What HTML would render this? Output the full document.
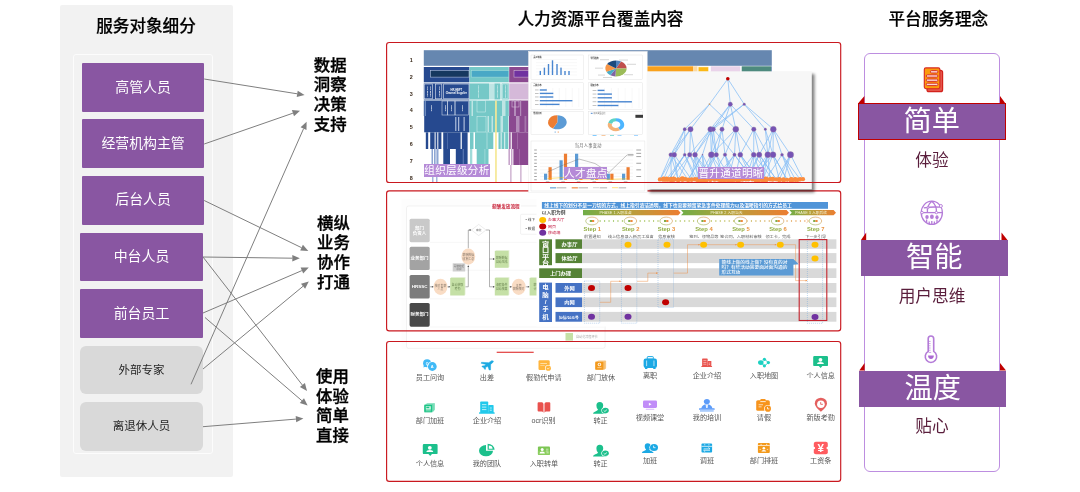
<!DOCTYPE html>
<html lang="zh-CN">
<head>
<meta charset="utf-8">
<title>人力资源平台覆盖内容</title>
<style>
html,body{margin:0;padding:0;background:#fff;}
body{width:1080px;height:492px;overflow:hidden;font-family:"Liberation Sans","Noto Sans CJK SC",sans-serif;color:#000;}
#stage{will-change:transform;position:relative;width:1080px;height:492px;overflow:hidden;background:#fff;}
#stage *{box-sizing:border-box;}
.abs{position:absolute;}
.t{position:absolute;white-space:nowrap;line-height:1;}
.title{position:absolute;font-weight:500;-webkit-text-stroke:0.2px #000;font-size:16.6px;line-height:20px;text-align:center;white-space:nowrap;color:#000;}
/* left */
.lpanel{position:absolute;left:60px;top:5px;width:172.5px;height:472px;background:#f2f2f2;border-radius:2px;}
.linner{position:absolute;left:73px;top:54px;width:139.6px;height:399.5px;border:1px solid #fcfcfc;border-radius:3px;}
.pbox{position:absolute;background:#8956a2;color:#fff;font-size:13.9px;font-weight:400;padding-bottom:4px;text-align:center;border-radius:1px;display:flex;align-items:center;justify-content:center;white-space:nowrap;}
.gbox{position:absolute;background:#d9d9d9;color:#262626;font-size:11.5px;font-weight:400;padding-bottom:2px;text-align:center;border-radius:6px;display:flex;align-items:center;justify-content:center;white-space:nowrap;}
.lab{position:absolute;font-weight:500;-webkit-text-stroke:0.35px #000;font-size:16.4px;line-height:19.85px;white-space:nowrap;color:#000;}
/* mid */
.rbox{position:absolute;border:1.2px solid #d2232a;border-radius:4.5px;}
.tag{position:absolute;background:#b58ad7;color:#fff;font-size:10.6px;line-height:12.2px;white-space:nowrap;font-weight:400;overflow:hidden;letter-spacing:0.3px;}
/* right */
.rpanel{position:absolute;left:864px;top:53.4px;width:136.2px;height:419px;border:1.3px solid #bd8ee0;border-radius:6px;background:#fff;}
.ban{position:absolute;background:#8956a2;color:#fff;font-size:28.2px;font-weight:400;padding-bottom:1px;line-height:1;text-align:center;white-space:nowrap;display:flex;align-items:center;justify-content:center;}
.sub{position:absolute;color:#5a1e3c;font-size:16.7px;font-weight:400;text-align:center;white-space:nowrap;line-height:20px;}

</style>
</head>
<body>
<div id="stage">
<div class="lpanel"></div>
<div class="linner"></div>
<div class="title" style="left:60px;top:16.9px;width:172px;">服务对象细分</div>
<div class="pbox" style="left:82px;top:63px;width:122.2px;height:49px;">高管人员</div>
<div class="pbox" style="left:82px;top:119px;width:122.2px;height:49.4px;">经营机构主管</div>
<div class="pbox" style="left:82px;top:176px;width:122.2px;height:48.5px;">后台人员</div>
<div class="pbox" style="left:80px;top:232.5px;width:123px;height:48.5px;">中台人员</div>
<div class="pbox" style="left:80px;top:289px;width:123px;height:49px;">前台员工</div>
<div class="gbox" style="left:80px;top:345.5px;width:123px;height:48.5px;">外部专家</div>
<div class="gbox" style="left:80px;top:401.5px;width:123px;height:49px;">离退休人员</div>
<div class="lab" style="left:313.8px;top:55.6px;">数据<br>洞察<br>决策<br>支持</div>
<div class="lab" style="left:317px;top:213.6px;">横纵<br>业务<br>协作<br>打通</div>
<div class="lab" style="left:316px;top:366.8px;">使用<br>体验<br>简单<br>直接</div>
<svg class="abs" style="left:0;top:0" width="1080" height="492" viewBox="0 0 1080 492">
<line x1="204.2" y1="79.0" x2="297.2" y2="93.8" stroke="#7f7f7f" stroke-width="1"/><polygon points="304.6,95.0 296.7,97.0 297.7,90.7" fill="#7f7f7f"/>
<line x1="204.2" y1="144.0" x2="292.9" y2="113.2" stroke="#7f7f7f" stroke-width="1"/><polygon points="300.0,110.7 294.0,116.2 291.9,110.1" fill="#7f7f7f"/>
<line x1="191.0" y1="384.3" x2="303.6" y2="128.6" stroke="#7f7f7f" stroke-width="1"/><polygon points="306.6,121.7 306.5,129.9 300.6,127.3" fill="#7f7f7f"/>
<line x1="204.2" y1="200.5" x2="301.6" y2="247.7" stroke="#7f7f7f" stroke-width="1"/><polygon points="308.3,251.0 300.2,250.6 302.9,244.8" fill="#7f7f7f"/>
<line x1="203.0" y1="257.0" x2="292.3" y2="258.2" stroke="#7f7f7f" stroke-width="1"/><polygon points="299.8,258.3 292.3,261.4 292.3,255.0" fill="#7f7f7f"/>
<line x1="203.0" y1="313.0" x2="301.9" y2="270.6" stroke="#7f7f7f" stroke-width="1"/><polygon points="308.8,267.6 303.2,273.5 300.6,267.6" fill="#7f7f7f"/>
<line x1="203.0" y1="369.0" x2="303.0" y2="286.3" stroke="#7f7f7f" stroke-width="1"/><polygon points="308.8,281.5 305.1,288.7 301.0,283.8" fill="#7f7f7f"/>
<line x1="203.0" y1="257.0" x2="302.4" y2="385.1" stroke="#7f7f7f" stroke-width="1"/><polygon points="307.0,391.0 299.9,387.0 304.9,383.1" fill="#7f7f7f"/>
<line x1="205.0" y1="317.5" x2="301.9" y2="400.7" stroke="#7f7f7f" stroke-width="1"/><polygon points="307.6,405.6 299.8,403.1 304.0,398.3" fill="#7f7f7f"/>
<line x1="203.0" y1="426.7" x2="295.9" y2="419.1" stroke="#7f7f7f" stroke-width="1"/><polygon points="303.4,418.5 296.2,422.3 295.7,415.9" fill="#7f7f7f"/>
</svg>
<div class="title" style="left:500px;top:10px;width:201px;">人力资源平台覆盖内容</div>
<svg class="abs" style="left:0;top:0" width="1080" height="492" viewBox="0 0 1080 492" font-family="Liberation Sans, Noto Sans CJK SC, sans-serif">
<defs><filter id="bl3" x="-10%" y="-10%" width="120%" height="120%"><feGaussianBlur stdDeviation="0.35"/></filter></defs>
<g filter="url(#bl3)">
<rect x="496.7" y="351.7" width="37" height="1.2" fill="#e2403f"/>
<circle cx="427.10" cy="363.20" r="4" fill="#40b9f6"/><path d="M424.00,365.10 l-0.6,2.4 l2.6,-1 z" fill="#40b9f6"/><circle cx="432.20" cy="366.50" r="4.9" fill="#fff"/><circle cx="432.30" cy="366.50" r="4.4" fill="#40b9f6"/><text x="427.10" y="364.50" font-size="3.6" font-weight="700" fill="#fff" text-anchor="middle">Q</text><text x="432.30" y="368.00" font-size="4" font-weight="700" fill="#fff" text-anchor="middle">A</text>
<text transform="translate(430.0,380.3) scale(1.13,1)" font-size="6.3" fill="#555" text-anchor="middle">员工问询</text>
<polygon points="493.15,360.90 493.35,361.90 490.65,364.40 490.55,369.90 489.25,370.00 487.75,366.20 485.45,367.50 485.55,369.20 484.65,369.30 483.65,367.60 481.95,366.70 482.35,365.90 484.35,365.80 486.05,364.40 481.15,363.30 481.55,362.30 488.75,362.70 491.65,360.70" fill="#1aa9e1" stroke="#1aa9e1" stroke-width="0.5" stroke-linejoin="round"/>
<text transform="translate(486.9,380.3) scale(1.13,1)" font-size="6.3" fill="#555" text-anchor="middle">出差</text>
<rect x="538.50" y="360.20" width="11.2" height="9.7" rx="1.2" fill="#ffb53d"/><rect x="540.30" y="363.10" width="6.6" height="0.9" fill="#ffe3b0"/><rect x="540.30" y="365.00" width="4.4" height="0.8" fill="#ffd995"/><circle cx="548.30" cy="368.20" r="3.3" fill="#fff"/><circle cx="548.30" cy="368.20" r="2.6" fill="#ffb53d"/><path d="M547.10,368.20 l1,0.9 l1.5,-1.5" stroke="#fff" stroke-width="0.6" fill="none"/>
<text transform="translate(543.8,380.3) scale(1.13,1)" font-size="6.3" fill="#555" text-anchor="middle">假勤代申请</text>
<rect x="597.70" y="360.50" width="8.4" height="8.4" rx="1" fill="#f8c070"/><rect x="596.30" y="360.90" width="8.8" height="8.9" rx="1" fill="#f6b04e" stroke="#fff" stroke-width="0.3"/><rect x="595.00" y="361.40" width="8.8" height="8.6" rx="1" fill="#f39a1f" stroke="#fff" stroke-width="0.3"/><circle cx="599.40" cy="364.50" r="1.7" fill="#fff"/><circle cx="599.40" cy="364.50" r="0.9" fill="#f39a1f"/><rect x="597.30" y="367.30" width="4.2" height="0.8" fill="#fbd9a6"/>
<text transform="translate(601.0,380.3) scale(1.13,1)" font-size="6.3" fill="#555" text-anchor="middle">部门放休</text>
<rect x="647.30" y="356.60" width="6" height="2.6" rx="0.6" fill="none" stroke="#1da9e4" stroke-width="1"/><rect x="643.60" y="358.50" width="13.40" height="9.4" rx="2.2" fill="#1da9e4"/><rect x="646.20" y="360.50" width="0.9" height="5.6" fill="#bfe6f8"/><rect x="653.50" y="360.50" width="0.9" height="5.6" fill="#bfe6f8"/><rect x="645.00" y="367.30" width="2.4" height="1.6" rx="0.5" fill="#1da9e4"/><rect x="653.20" y="367.30" width="2.4" height="1.6" rx="0.5" fill="#1da9e4"/>
<text transform="translate(650.1,378.1) scale(1.13,1)" font-size="6.3" fill="#555" text-anchor="middle">离职</text>
<g transform="translate(701.30,358.60) scale(0.688)"><rect x="1.2" y="0" width="8" height="11.6" rx="0.8" fill="#e9544f"/><rect x="9.2" y="3.6" width="5.4" height="8" rx="0.6" fill="#e9544f"/><rect x="0" y="10.8" width="15.7" height="1.5" rx="0.6" fill="#e9544f"/><rect x="3" y="2.6" width="4.4" height="1" fill="#f8c4c2"/><rect x="3" y="5.1" width="4.4" height="1" fill="#f8c4c2"/><rect x="3" y="7.6" width="4.4" height="1" fill="#f8c4c2"/><rect x="10.8" y="6" width="2" height="1" fill="#f8c4c2"/><rect x="10.8" y="8.2" width="2" height="1" fill="#f8c4c2"/></g>
<text transform="translate(706.9,378.1) scale(1.13,1)" font-size="6.3" fill="#555" text-anchor="middle">企业介绍</text>
<path d="M764.40,359.10 L768.40,362.55 L764.40,366.00 L761.00,362.55" stroke="#1fd1c2" stroke-width="0.9" fill="none"/><ellipse cx="760.90" cy="362.55" rx="2.9" ry="2.4" fill="#1fd1c2"/><circle cx="764.40" cy="359.30" r="1.6" fill="#1fd1c2"/><circle cx="764.40" cy="365.80" r="1.6" fill="#1fd1c2"/><circle cx="768.40" cy="362.55" r="1.6" fill="#1fd1c2"/><path d="M763.60,361.25 l1.6,1.3 l-1.6,1.3 z" fill="#fff"/>
<text transform="translate(764.0,378.1) scale(1.13,1)" font-size="6.3" fill="#555" text-anchor="middle">入职地图</text>
<path d="M814.10,356.10 h12.70 q1.2,0 1.2,1.2 v7.6 q0,1.2 -1.2,1.2 h-4.4 l-1.8,1.9 l-1.8,-1.9 h-4.4 q-1.2,0 -1.2,-1.2 v-7.6 q0,-1.2 1.2,-1.2 z" fill="#1cc08c"/><circle cx="820.45" cy="359.80" r="1.9" fill="#fff"/><path d="M817.05,364.10 q0,-2.2 3.4,-2.2 q3.4,0 3.4,2.2 z" fill="#fff"/>
<text transform="translate(820.7,378.1) scale(1.13,1)" font-size="6.3" fill="#555" text-anchor="middle">个人信息</text>
<rect x="426.60" y="403.00" width="8.4" height="7.6" rx="1" fill="#7fdfba"/><rect x="425.30" y="403.70" width="8.6" height="8" rx="1" fill="#4fd2a2" stroke="#fff" stroke-width="0.3"/><rect x="424.00" y="404.40" width="8.6" height="8" rx="1" fill="#1fc487" stroke="#fff" stroke-width="0.3"/><rect x="425.80" y="406.20" width="5" height="3.4" fill="#d5f5e8"/><rect x="426.30" y="406.80" width="3" height="1.4" fill="#1fc487"/><rect x="425.80" y="410.50" width="5" height="0.7" fill="#a5ebcf"/>
<text transform="translate(430.0,423.1) scale(1.13,1)" font-size="6.3" fill="#555" text-anchor="middle">部门加班</text>
<g transform="translate(479.00,401.50) scale(1.000)"><rect x="1.2" y="0" width="8" height="11.6" rx="0.8" fill="#20c9eb"/><rect x="9.2" y="3.6" width="5.4" height="8" rx="0.6" fill="#20c9eb"/><rect x="0" y="10.8" width="15.7" height="1.5" rx="0.6" fill="#20c9eb"/><rect x="3" y="2.6" width="4.4" height="1" fill="#b5eef9"/><rect x="3" y="5.1" width="4.4" height="1" fill="#b5eef9"/><rect x="3" y="7.6" width="4.4" height="1" fill="#b5eef9"/><rect x="10.8" y="6" width="2" height="1" fill="#b5eef9"/><rect x="10.8" y="8.2" width="2" height="1" fill="#b5eef9"/></g>
<text transform="translate(487.0,423.1) scale(1.13,1)" font-size="6.3" fill="#555" text-anchor="middle">企业介绍</text>
<path d="M537.60,403.30 q0,-1 1,-1 h3.2 q1.6,0 1.6,1.6 v8.6 q-0.6,-1 -1.8,-1 h-3 q-1,0 -1,-1 z" fill="#e9514e"/><path d="M550.30,403.30 q0,-1 -1,-1 h-3.2 q-1.6,0 -1.6,1.6 v8.6 q0.6,-1 1.8,-1 h3 q1,0 1,-1 z" fill="#e9514e"/><rect x="543.45" y="403.70" width="1" height="8.8" fill="#f3a19f"/>
<text transform="translate(543.5,423.1) scale(1.13,1)" font-size="6.3" fill="#555" text-anchor="middle">ocr识别</text>
<path d="M593.00,413.80 q0,-1.6 2.4,-2.4 q2.4,-0.8 2.6,-1.8 q-1.6,-1.2 -1.6,-4 q0,-3.6 3.4,-3.6 q3.4,0 3.4,3.6 q0,2.8 -1.6,4 q0.2,1 2.6,1.8 q2.4,0.8 2.4,2.4 z" fill="#1cc08c"/><ellipse cx="605.40" cy="410.50" rx="4" ry="3.2" fill="#fff"/><ellipse cx="605.40" cy="410.50" rx="3.4" ry="2.7" fill="#1cc08c"/><path d="M603.70,410.50 l1.2,1 l2,-1.8" stroke="#fff" stroke-width="0.8" fill="none"/>
<text transform="translate(600.6,423.1) scale(1.13,1)" font-size="6.3" fill="#555" text-anchor="middle">转正</text>
<rect x="643.00" y="400.60" width="14.00" height="7.3" rx="1.3" fill="#c18df8"/><rect x="645.70" y="408.80" width="8.6" height="1" rx="0.5" fill="#d8b6fb"/><path d="M648.90,402.70 v3 l2.6,-1.5 z" fill="#fff"/>
<text transform="translate(650.0,420.3) scale(1.13,1)" font-size="6.3" fill="#555" text-anchor="middle">视频课堂</text>
<ellipse cx="706.85" cy="401.60" rx="3" ry="2.7" fill="#5d9cf9"/><path d="M701.25,408.80 q0.6,-4.6 5.6,-4.6 q5,0 5.6,4.6 z" fill="#5d9cf9"/><path d="M705.65,404.40 h2.4 l-0.4,3.6 h-1.6 z" fill="#e6f0ff"/><rect x="699.00" y="408.20" width="15.70" height="1.6" rx="0.6" fill="#5d9cf9"/><rect x="700.00" y="409.80" width="13.70" height="2" fill="#a9cbfc"/>
<text transform="translate(707.0,420.3) scale(1.13,1)" font-size="6.3" fill="#555" text-anchor="middle">我的培训</text>
<rect x="756.20" y="400.20" width="13.6" height="10.6" rx="1.6" fill="#f7941e"/><rect x="760.30" y="399.00" width="5.4" height="2.4" rx="1" fill="#f7941e"/><rect x="760.30" y="401.20" width="5.4" height="0.9" fill="#fff" opacity="0.9"/><rect x="758.60" y="404.30" width="4.4" height="0.9" fill="#fde3c0"/><rect x="758.60" y="406.40" width="3" height="0.9" fill="#fde3c0"/><circle cx="767.90" cy="408.70" r="3.8" fill="#fff"/><circle cx="767.90" cy="408.70" r="3.1" fill="#f7941e"/><path d="M767.50,407.00 v1.9 h1.8" stroke="#fff" stroke-width="0.8" fill="none"/>
<text transform="translate(763.9,420.3) scale(1.13,1)" font-size="6.3" fill="#555" text-anchor="middle">请假</text>
<path d="M820.90,411.80 q-6.1,-5 -6.1,-8.4 a6.1,5.7 0 0 1 12.2,0 q0,3.4 -6.1,8.4 z" fill="#e4605f"/><circle cx="820.90" cy="404.20" r="3.8" fill="#fff"/><path d="M820.70,402.10 v2.2 h2.2" stroke="#e4605f" stroke-width="0.9" fill="none"/>
<text transform="translate(820.7,420.3) scale(1.13,1)" font-size="6.3" fill="#555" text-anchor="middle">新版考勤</text>
<path d="M423.20,444.10 h13.20 q1.2,0 1.2,1.2 v7.6 q0,1.2 -1.2,1.2 h-4.4 l-1.8,1.9 l-1.8,-1.9 h-4.4 q-1.2,0 -1.2,-1.2 v-7.6 q0,-1.2 1.2,-1.2 z" fill="#1cc08c"/><circle cx="429.80" cy="447.80" r="1.9" fill="#fff"/><path d="M426.40,452.10 q0,-2.2 3.4,-2.2 q3.4,0 3.4,2.2 z" fill="#fff"/>
<text transform="translate(430.0,466.0) scale(1.13,1)" font-size="6.3" fill="#555" text-anchor="middle">个人信息</text>
<path d="M486.00,450.70 L486.00,445.10 A7.00,5.60 0 1 0 493.00,450.70 Z" fill="#1cc08c"/><path d="M487.60,449.80 v-6 a7,6 0 0 1 7,6 z" fill="#1cc08c"/><path d="M488.80,448.70 v-3.2 a4,3.4 0 0 1 3.8,3.2 z" fill="#fff"/>
<text transform="translate(486.9,466.0) scale(1.13,1)" font-size="6.3" fill="#555" text-anchor="middle">我的团队</text>
<rect x="537.90" y="446.60" width="12.10" height="8.40" rx="1" fill="#7cc653"/><rect x="537.90" y="450.80" width="12.10" height="4.20" rx="1" fill="#93d267" opacity="0.7"/><circle cx="542.20" cy="449.60" r="1.5" fill="#fff"/><path d="M539.50,453.40 q0,-2 2.7,-2 q2.7,0 2.7,2 z" fill="#fff"/><path d="M545.90,449.20 h2.6 M545.90,451.00 h2.6 M546.50,452.80 h2.2" stroke="#e9f7df" stroke-width="0.7" fill="none"/>
<text transform="translate(543.9,466.0) scale(1.13,1)" font-size="6.3" fill="#555" text-anchor="middle">入职转单</text>
<path d="M593.00,456.60 q0,-1.6 2.4,-2.4 q2.4,-0.8 2.6,-1.8 q-1.6,-1.2 -1.6,-4 q0,-3.6 3.4,-3.6 q3.4,0 3.4,3.6 q0,2.8 -1.6,4 q0.2,1 2.6,1.8 q2.4,0.8 2.4,2.4 z" fill="#1cc08c"/><ellipse cx="605.40" cy="453.30" rx="4" ry="3.2" fill="#fff"/><ellipse cx="605.40" cy="453.30" rx="3.4" ry="2.7" fill="#1cc08c"/><path d="M603.70,453.30 l1.2,1 l2,-1.8" stroke="#fff" stroke-width="0.8" fill="none"/>
<text transform="translate(600.6,466.0) scale(1.13,1)" font-size="6.3" fill="#555" text-anchor="middle">转正</text>
<path d="M641.90,452.90 q0,-1.4 2,-2 q2,-0.6 2.2,-1.4 q-1.4,-1 -1.4,-3.2 q0,-3 3,-3 q3,0 3,3 q0,2.2 -1.4,3.2 q0.2,0.8 2.2,1.4 q2,0.6 2,2 z" fill="#1da9e4"/><ellipse cx="654.00" cy="447.60" rx="4.6" ry="4" fill="#fff"/><ellipse cx="654.00" cy="447.60" rx="4" ry="3.5" fill="#1da9e4"/><path d="M653.60,445.70 v2 h1.9" stroke="#fff" stroke-width="0.8" fill="none"/>
<text transform="translate(650.0,463.3) scale(1.13,1)" font-size="6.3" fill="#555" text-anchor="middle">加班</text>
<rect x="701.50" y="443.60" width="10.60" height="8.80" rx="0.9" fill="#1da9e4"/><rect x="701.50" y="445.90" width="10.60" height="0.7" fill="#fff"/><rect x="704.10" y="444.50" width="1.2" height="0.7" fill="#fff"/><rect x="708.30" y="444.50" width="1.2" height="0.7" fill="#fff"/><path d="M703.60,448.90 h6.4 l-1.6,-1.5 M710.00,450.30 h-6.4 l1.6,1.5" stroke="#fff" stroke-width="0.7" fill="none"/>
<text transform="translate(706.9,463.3) scale(1.13,1)" font-size="6.3" fill="#555" text-anchor="middle">调班</text>
<rect x="757.90" y="443.00" width="11.90" height="9.90" rx="0.9" fill="#f39a1f"/><rect x="757.90" y="445.30" width="11.90" height="0.7" fill="#fff"/><rect x="760.50" y="443.90" width="1.2" height="0.7" fill="#fff"/><rect x="766.00" y="443.90" width="1.2" height="0.7" fill="#fff"/><circle cx="763.85" cy="448.30" r="1.3" fill="#fff"/><path d="M761.45,451.60 q0,-1.6 2.4,-1.6 q2.4,0 2.4,1.6 z" fill="#fff"/><path d="M759.50,449.40 h1.4 M766.80,449.40 h1.4" stroke="#fff" stroke-width="0.6"/>
<text transform="translate(764.0,463.3) scale(1.13,1)" font-size="6.3" fill="#555" text-anchor="middle">部门排班</text>
<rect x="813.80" y="441.80" width="14.00" height="12.50" rx="2" fill="#ff5b60"/><circle cx="813.80" cy="448.05" r="1.3" fill="#fff"/><circle cx="827.80" cy="448.05" r="1.3" fill="#fff"/><text x="820.80" y="452.15" font-size="11.5" font-weight="700" fill="#fff" text-anchor="middle">¥</text>
<text transform="translate(820.7,463.3) scale(1.13,1)" font-size="6.3" fill="#555" text-anchor="middle">工资条</text>
</g>
</svg>
<svg class="abs" style="left:0;top:0" width="1080" height="492" viewBox="0 0 1080 492" font-family="Liberation Sans, Noto Sans CJK SC, sans-serif">
<defs><filter id="bl2" x="-5%" y="-5%" width="110%" height="110%"><feGaussianBlur stdDeviation="0.4"/></filter><linearGradient id="ph" x1="0" x2="1" y1="0" y2="0"><stop offset="0" stop-color="#70ad47"/><stop offset="0.45" stop-color="#b5a13c"/><stop offset="1" stop-color="#ed7d31"/></linearGradient><linearGradient id="ph2" gradientUnits="userSpaceOnUse" x1="599" x2="808" y1="0" y2="0"><stop offset="0" stop-color="#93c255"/><stop offset="0.55" stop-color="#b9c25a"/><stop offset="1" stop-color="#eda05a"/></linearGradient><linearGradient id="ph3" x1="0" x2="1" y1="1" y2="0"><stop offset="0" stop-color="#86b84c"/><stop offset="1" stop-color="#ee8a45"/></linearGradient></defs>
<g filter="url(#bl2)">
<rect x="401.5" y="199.0" width="204.5" height="150.0" fill="#fdfdfd" />
<rect x="406.5" y="206.0" width="198.5" height="142.3" fill="#fff" stroke="#e4e4e4" stroke-width="0.5" rx="2"/>
<rect x="490.5" y="203.0" width="30.5" height="6.0" fill="#fff" />
<text x="505.8" y="207.6" font-size="4.6" fill="#c9283e" text-anchor="middle" font-weight="700" >薪酬发放流程</text>
<rect x="409.6" y="218.7" width="20.1" height="23.5" fill="#c9c9c9" rx="1.6"/>
<text transform="translate(419.6,229.8) scale(1.10,1)" font-size="4.1" fill="#fff" text-anchor="middle" font-weight="700" >部门</text>
<text transform="translate(419.6,234.8) scale(1.10,1)" font-size="4.1" fill="#fff" text-anchor="middle" font-weight="700" >负责人</text>
<rect x="409.6" y="246.8" width="20.1" height="23.2" fill="#a3a3a3" rx="1.6"/>
<text transform="translate(419.6,259.9) scale(1.10,1)" font-size="4.1" fill="#fff" text-anchor="middle" font-weight="700" >业务部门</text>
<rect x="409.6" y="275.0" width="20.1" height="23.5" fill="#7b7b7b" rx="1.6"/>
<text transform="translate(419.6,288.2) scale(1.10,1)" font-size="4.1" fill="#fff" text-anchor="middle" font-weight="700" >HRSSC</text>
<rect x="409.6" y="303.0" width="20.1" height="23.7" fill="#4a4a4a" rx="1.6"/>
<text transform="translate(419.6,316.4) scale(1.10,1)" font-size="4.1" fill="#fff" text-anchor="middle" font-weight="700" >财务部门</text>
<line x1="430" y1="242.4" x2="604" y2="242.4" stroke="#ececec" stroke-width="0.4"/>
<line x1="430" y1="270.3" x2="604" y2="270.3" stroke="#ececec" stroke-width="0.4"/>
<line x1="430" y1="298.8" x2="604" y2="298.8" stroke="#ececec" stroke-width="0.4"/>
<line x1="430" y1="327.0" x2="604" y2="327.0" stroke="#ececec" stroke-width="0.4"/>
<rect x="520.6" y="214.3" width="24.4" height="20.0" fill="#fff" stroke="#dedede" stroke-width="0.4" rx="1"/>
<text x="525.6" y="221.4" font-size="3.6" fill="#444" text-anchor="start" font-weight="400" >• 线下</text>
<text x="525.6" y="229.6" font-size="3.6" fill="#444" text-anchor="start" font-weight="400" >• 数据</text>
<polyline points="429.8,286.8 433.5,286.8" stroke="#555" stroke-width="0.45" fill="none"/>
<polygon points="433.5,286.8 431.9,287.7 431.9,285.9" fill="#444"/>
<polyline points="447.3,286.8 450.2,286.8" stroke="#555" stroke-width="0.45" fill="none"/>
<polygon points="450.2,286.8 448.6,287.7 448.6,285.9" fill="#444"/>
<polyline points="464.6,286.8 468.3,286.8 468.3,265.5" stroke="#555" stroke-width="0.45" fill="none"/>
<polygon points="468.3,265.5 469.2,267.1 467.4,267.1" fill="#444"/>
<polyline points="468.3,248.3 468.3,230.0 471.2,230.0" stroke="#555" stroke-width="0.45" fill="none"/>
<polygon points="471.2,230.0 469.6,230.9 469.6,229.1" fill="#444"/>
<polyline points="486.0,230.0 489.5,230.0 489.5,286.8 494.6,286.8" stroke="#555" stroke-width="0.45" fill="none"/>
<polygon points="494.6,286.8 493.0,287.7 493.0,285.9" fill="#444"/>
<polyline points="489.5,259.0 494.6,259.0" stroke="#555" stroke-width="0.45" fill="none"/>
<polygon points="494.6,259.0 493.0,259.9 493.0,258.1" fill="#444"/>
<polyline points="508.5,286.8 511.8,286.8" stroke="#555" stroke-width="0.45" fill="none"/>
<polygon points="511.8,286.8 510.2,287.7 510.2,285.9" fill="#444"/>
<polyline points="525.6,286.8 529.4,286.8" stroke="#555" stroke-width="0.45" fill="none"/>
<polygon points="529.4,286.8 527.8,287.7 527.8,285.9" fill="#444"/>
<polygon points="471.5,230 478.7,224.4 486,230 478.7,235.6" fill="#fff" stroke="#cfcfcf" stroke-width="0.4"/>
<text x="478.7" y="231.2" font-size="2.8" fill="#777" text-anchor="middle" font-weight="400" >审批</text>
<ellipse cx="468.3" cy="256.6" rx="6.9" ry="8.1" fill="#f9dcc4"/>
<text x="468.3" y="256.3" font-size="2.9" fill="#8a7a6c" text-anchor="middle" font-weight="400" >薪酬数据</text>
<text x="468.3" y="260.0" font-size="2.9" fill="#8a7a6c" text-anchor="middle" font-weight="400" >收集汇总</text>
<rect x="452.7" y="263.3" width="12.5" height="8.2" fill="#cfcfcf" />
<text x="459.0" y="266.8" font-size="2.6" fill="#777" text-anchor="middle" font-weight="400" >薪酬数据</text>
<text x="459.0" y="270.2" font-size="2.6" fill="#777" text-anchor="middle" font-weight="400" >提报</text>
<rect x="495.6" y="250.1" width="13.8" height="16.9" fill="#e6f1d8" />
<rect x="494.8" y="250.9" width="13.8" height="16.9" fill="#c5e0a6" />
<text x="501.7" y="259.1" font-size="2.9" fill="#6f8a55" text-anchor="middle" font-weight="400" >薪酬数据</text>
<text x="501.7" y="262.8" font-size="2.9" fill="#6f8a55" text-anchor="middle" font-weight="400" >自动生成</text>
<ellipse cx="440.5" cy="286.8" rx="6.9" ry="8.1" fill="#f9dcc4"/>
<text x="440.5" y="286.5" font-size="2.9" fill="#8a7a6c" text-anchor="middle" font-weight="400" >核对发薪</text>
<text x="440.5" y="290.2" font-size="2.9" fill="#8a7a6c" text-anchor="middle" font-weight="400" >人员</text>
<rect x="451.0" y="277.1" width="14.5" height="17.6" fill="#e6f1d8" />
<rect x="450.2" y="277.9" width="14.5" height="17.6" fill="#c5e0a6" />
<text x="457.4" y="286.4" font-size="2.9" fill="#6f8a55" text-anchor="middle" font-weight="400" >自动获取</text>
<text x="457.4" y="290.1" font-size="2.9" fill="#6f8a55" text-anchor="middle" font-weight="400" >考勤</text>
<rect x="495.6" y="277.1" width="13.8" height="17.6" fill="#e6f1d8" />
<rect x="494.8" y="277.9" width="13.8" height="17.6" fill="#c5e0a6" />
<text x="501.7" y="286.4" font-size="2.9" fill="#6f8a55" text-anchor="middle" font-weight="400" >请假条件</text>
<text x="501.7" y="290.1" font-size="2.9" fill="#6f8a55" text-anchor="middle" font-weight="400" >自动核算</text>
<ellipse cx="518.7" cy="286.8" rx="6.9" ry="8.1" fill="#f9dcc4"/>
<text x="518.7" y="286.5" font-size="2.9" fill="#8a7a6c" text-anchor="middle" font-weight="400" >主管</text>
<text x="518.7" y="290.2" font-size="2.9" fill="#8a7a6c" text-anchor="middle" font-weight="400" >薪酬核对</text>
<rect x="530.4" y="277.1" width="13.4" height="17.6" fill="#e6f1d8" />
<rect x="529.6" y="277.9" width="13.4" height="17.6" fill="#c5e0a6" />
<text x="536.3" y="286.4" font-size="2.9" fill="#6f8a55" text-anchor="middle" font-weight="400" >薪酬</text>
<text x="536.3" y="290.1" font-size="2.9" fill="#6f8a55" text-anchor="middle" font-weight="400" >计算</text>
<rect x="565.5" y="333.0" width="7.5" height="7.6" fill="#c5e0a6" />
<text x="576.0" y="338.3" font-size="3.1" fill="#aaa" text-anchor="start" font-weight="400" >自动化流程环节</text>
<rect x="536.5" y="198.5" width="301.5" height="128.0" fill="#fff" />
<rect x="541.9" y="202.0" width="286.1" height="6.8" fill="#4f94d8" />
<text x="544.3" y="207.1" font-size="4.3" fill="#fff" text-anchor="start" font-weight="700" textLength="247.5" lengthAdjust="spacingAndGlyphs">线上线下的划分不是一刀切的方式，线上指引清洁透明，线下也需要预留紧急事件处理能力以及温暖指引的方式给员工</text>
<text transform="translate(541.8,214.3) scale(1.13,1)" font-size="4.2" fill="#222" text-anchor="start" font-weight="500" >以入职为例</text>
<polygon points="583.0,210.0 678.2,210.0 680.6,212.7 678.2,215.3 583.0,215.3" fill="url(#ph)"/>
<text transform="translate(615.6,213.9) scale(1.15,1)" font-size="3.3" fill="#f3f0d0" text-anchor="middle" font-weight="400" >PHASE 1 入职准备</text>
<polygon points="681.0,210.0 786.6,210.0 789.0,212.7 786.6,215.3 681.0,215.3 683.4,212.7" fill="url(#ph)"/>
<text transform="translate(726.5,213.9) scale(1.15,1)" font-size="3.3" fill="#f3f0d0" text-anchor="middle" font-weight="400" >PHASE 2 入职当天</text>
<polygon points="789.4,210.0 833.6,210.0 836.0,212.7 833.6,215.3 789.4,215.3 791.8,212.7" fill="url(#ph)"/>
<text transform="translate(811.0,213.9) scale(1.15,1)" font-size="3.3" fill="#f3f0d0" text-anchor="middle" font-weight="400" >PHASE 3 入职后续</text>
<ellipse cx="542.7" cy="220.0" rx="3.5" ry="3" fill="#ffc000"/>
<text transform="translate(548.0,221.4) scale(1.12,1)" font-size="3.7" fill="#c0143c" text-anchor="start" font-weight="400" >办事大厅</text>
<ellipse cx="542.7" cy="226.4" rx="3.5" ry="3" fill="#c00000"/>
<text transform="translate(548.0,227.8) scale(1.12,1)" font-size="3.7" fill="#c0143c" text-anchor="start" font-weight="400" >网页</text>
<ellipse cx="542.7" cy="232.8" rx="3.5" ry="3" fill="#7030a0"/>
<text transform="translate(548.0,234.2) scale(1.12,1)" font-size="3.7" fill="#c0143c" text-anchor="start" font-weight="400" >移动端</text>
<line x1="599.6" y1="221" x2="808" y2="221" stroke="url(#ph2)" stroke-width="1.4" stroke-dasharray="1.1 3.35"/>
<ellipse cx="592.0" cy="221" rx="6.3" ry="3.9" fill="#fff" stroke="url(#ph3)" stroke-width="0.6"/>
<rect x="589.8" y="220" width="2.2" height="2" fill="#7fae4a"/><rect x="592.0" y="220" width="2.2" height="2" fill="#ee8a3c"/>
<text transform="translate(592.3,231) scale(1.1,1)" font-size="5.3" font-weight="700" text-anchor="middle"><tspan fill="#93ae45">Step </tspan><tspan fill="#ea9340">1</tspan></text>
<text transform="translate(592.3,237.8) scale(1.13,1)" font-size="3.7" fill="#606060" text-anchor="middle" font-weight="400" >前置通知</text>
<ellipse cx="630.4" cy="221" rx="6.3" ry="3.9" fill="#fff" stroke="url(#ph3)" stroke-width="0.6"/>
<rect x="628.2" y="220" width="2.2" height="2" fill="#7fae4a"/><rect x="630.4" y="220" width="2.2" height="2" fill="#ee8a3c"/>
<text transform="translate(630.7,231) scale(1.1,1)" font-size="5.3" font-weight="700" text-anchor="middle"><tspan fill="#93ae45">Step </tspan><tspan fill="#ea9340">2</tspan></text>
<text transform="translate(630.7,237.8) scale(1.13,1)" font-size="3.7" fill="#606060" text-anchor="middle" font-weight="400" >线上信息录入新员工准备</text>
<ellipse cx="666.2" cy="221" rx="6.3" ry="3.9" fill="#fff" stroke="url(#ph3)" stroke-width="0.6"/>
<rect x="664.0" y="220" width="2.2" height="2" fill="#7fae4a"/><rect x="666.2" y="220" width="2.2" height="2" fill="#ee8a3c"/>
<text transform="translate(666.5,231) scale(1.1,1)" font-size="5.3" font-weight="700" text-anchor="middle"><tspan fill="#93ae45">Step </tspan><tspan fill="#ea9340">3</tspan></text>
<text transform="translate(666.5,237.8) scale(1.13,1)" font-size="3.7" fill="#606060" text-anchor="middle" font-weight="400" >信息审核</text>
<ellipse cx="703.6" cy="221" rx="6.3" ry="3.9" fill="#fff" stroke="url(#ph3)" stroke-width="0.6"/>
<rect x="701.4" y="220" width="2.2" height="2" fill="#7fae4a"/><rect x="703.6" y="220" width="2.2" height="2" fill="#ee8a3c"/>
<text transform="translate(703.9,231) scale(1.1,1)" font-size="5.3" font-weight="700" text-anchor="middle"><tspan fill="#93ae45">Step </tspan><tspan fill="#ea9340">4</tspan></text>
<text transform="translate(703.9,237.8) scale(1.13,1)" font-size="3.7" fill="#606060" text-anchor="middle" font-weight="400" >签到、领物品等</text>
<ellipse cx="740.6" cy="221" rx="6.3" ry="3.9" fill="#fff" stroke="url(#ph3)" stroke-width="0.6"/>
<rect x="738.4" y="220" width="2.2" height="2" fill="#7fae4a"/><rect x="740.6" y="220" width="2.2" height="2" fill="#ee8a3c"/>
<text transform="translate(740.9,231) scale(1.1,1)" font-size="5.3" font-weight="700" text-anchor="middle"><tspan fill="#93ae45">Step </tspan><tspan fill="#ea9340">5</tspan></text>
<text transform="translate(740.9,237.8) scale(1.13,1)" font-size="3.7" fill="#606060" text-anchor="middle" font-weight="400" >签合同，入职材料审核</text>
<ellipse cx="777.6" cy="221" rx="6.3" ry="3.9" fill="#fff" stroke="url(#ph3)" stroke-width="0.6"/>
<rect x="775.4" y="220" width="2.2" height="2" fill="#7fae4a"/><rect x="777.6" y="220" width="2.2" height="2" fill="#ee8a3c"/>
<text transform="translate(777.9,231) scale(1.1,1)" font-size="5.3" font-weight="700" text-anchor="middle"><tspan fill="#93ae45">Step </tspan><tspan fill="#ea9340">6</tspan></text>
<text transform="translate(777.9,237.8) scale(1.13,1)" font-size="3.7" fill="#606060" text-anchor="middle" font-weight="400" >领工卡，完成</text>
<ellipse cx="815.4" cy="221" rx="6.3" ry="3.9" fill="#fff" stroke="url(#ph3)" stroke-width="0.6"/>
<rect x="813.2" y="220" width="2.2" height="2" fill="#7fae4a"/><rect x="815.4" y="220" width="2.2" height="2" fill="#ee8a3c"/>
<text transform="translate(815.7,231) scale(1.1,1)" font-size="5.3" font-weight="700" text-anchor="middle"><tspan fill="#93ae45">Step </tspan><tspan fill="#ea9340">7</tspan></text>
<text transform="translate(815.7,237.8) scale(1.13,1)" font-size="3.7" fill="#606060" text-anchor="middle" font-weight="400" >下一步引导</text>
<polyline points="806.5,219.3 808.6,221 806.5,222.7" fill="none" stroke="#e98a2f" stroke-width="0.5"/>
<rect x="582.0" y="239.3" width="254.4" height="9.5" fill="#d9d9d9" />
<rect x="555.5" y="239.3" width="26.5" height="9.5" fill="#548235" />
<text transform="translate(569.5,245.7) scale(1.13,1)" font-size="4.7" fill="#fff" text-anchor="middle" font-weight="700" >办事厅</text>
<rect x="582.0" y="253.1" width="254.4" height="10.0" fill="#d9d9d9" />
<rect x="555.5" y="253.1" width="26.5" height="10.0" fill="#548235" />
<text transform="translate(569.5,260.0) scale(1.13,1)" font-size="4.7" fill="#fff" text-anchor="middle" font-weight="700" >体验厅</text>
<rect x="582.0" y="268.3" width="254.4" height="9.7" fill="#d9d9d9" />
<rect x="539.2" y="268.3" width="42.8" height="9.7" fill="#548235" />
<text transform="translate(560.5,274.9) scale(1.13,1)" font-size="4.7" fill="#fff" text-anchor="middle" font-weight="700" >上门办理</text>
<rect x="582.0" y="283.0" width="254.4" height="9.8" fill="#d9d9d9" />
<rect x="555.5" y="283.0" width="26.5" height="9.8" fill="#4472c4" />
<text transform="translate(569.5,289.7) scale(1.13,1)" font-size="4.7" fill="#fff" text-anchor="middle" font-weight="700" >外网</text>
<rect x="582.0" y="297.4" width="254.4" height="9.7" fill="#d9d9d9" />
<rect x="555.5" y="297.4" width="26.5" height="9.7" fill="#4472c4" />
<text transform="translate(569.5,304.0) scale(1.13,1)" font-size="4.7" fill="#fff" text-anchor="middle" font-weight="700" >内网</text>
<rect x="582.0" y="311.9" width="254.4" height="9.8" fill="#d9d9d9" />
<rect x="555.5" y="311.9" width="26.5" height="9.8" fill="#4472c4" />
<text transform="translate(568.8,318.6) scale(1.13,1)" font-size="3.3" fill="#fff" text-anchor="middle" font-weight="700" >短信/公众号</text>
<rect x="539.2" y="239.3" width="12.8" height="25.9" fill="#548235" />
<text transform="translate(545.6,245.6) scale(1.20,1)" font-size="6.0" fill="#fff" text-anchor="middle" font-weight="700" >窗</text>
<text transform="translate(545.6,252.0) scale(1.20,1)" font-size="6.0" fill="#fff" text-anchor="middle" font-weight="700" >口</text>
<text transform="translate(545.6,258.5) scale(1.20,1)" font-size="6.0" fill="#fff" text-anchor="middle" font-weight="700" >平</text>
<text transform="translate(545.6,264.9) scale(1.20,1)" font-size="6.0" fill="#fff" text-anchor="middle" font-weight="700" >台</text>
<rect x="539.2" y="282.6" width="12.8" height="39.4" fill="#4472c4" />
<text transform="translate(545.6,289.4) scale(1.20,1)" font-size="5.4" fill="#fff" text-anchor="middle" font-weight="700" >电</text>
<text transform="translate(545.6,296.7) scale(1.20,1)" font-size="5.4" fill="#fff" text-anchor="middle" font-weight="700" >脑</text>
<text transform="translate(545.6,304.0) scale(1.20,1)" font-size="5.4" fill="#fff" text-anchor="middle" font-weight="700" >/</text>
<text transform="translate(545.6,311.3) scale(1.20,1)" font-size="5.4" fill="#fff" text-anchor="middle" font-weight="700" >手</text>
<text transform="translate(545.6,318.6) scale(1.20,1)" font-size="5.4" fill="#fff" text-anchor="middle" font-weight="700" >机</text>
<rect x="584.4" y="281.0" width="15.3" height="42.2" fill="none" fill="none" stroke="#6fa5dc" stroke-width="0.45" stroke-dasharray="1 1"/>
<rect x="621.4" y="239.0" width="15.4" height="84.2" fill="none" fill="none" stroke="#6fa5dc" stroke-width="0.45" stroke-dasharray="1 1"/>
<rect x="658.0" y="239.0" width="15.5" height="68.5" fill="none" fill="none" stroke="#6fa5dc" stroke-width="0.45" stroke-dasharray="1 1"/>
<rect x="807.4" y="239.0" width="15.2" height="84.3" fill="none" fill="none" stroke="#6fa5dc" stroke-width="0.45" stroke-dasharray="1 1"/>
<polyline points="600.0,302.3 610.7,302.3 610.7,281.3 621.0,281.3" fill="none" stroke="#ed8a3f" stroke-width="0.45"/>
<polygon points="621.0,281.3 619.4,280.5 619.4,282.1" fill="#ed8a3f"/>
<polyline points="636.9,281.3 647.8,281.3 647.8,273.1 657.8,273.1" fill="none" stroke="#ed8a3f" stroke-width="0.45"/>
<polygon points="657.8,273.1 656.2,272.3 656.2,273.9" fill="#ed8a3f"/>
<polyline points="673.6,273.1 687.5,273.1 687.5,244.7 700.0,244.7" fill="none" stroke="#ed8a3f" stroke-width="0.45"/>
<polygon points="700.0,244.7 698.4,243.9 698.4,245.5" fill="#ed8a3f"/>
<polyline points="707.0,244.7 737.0,244.7" fill="none" stroke="#ed8a3f" stroke-width="0.45"/>
<polygon points="737.0,244.7 735.4,243.9 735.4,245.5" fill="#ed8a3f"/>
<polyline points="744.0,244.7 776.5,244.7" fill="none" stroke="#ed8a3f" stroke-width="0.45"/>
<polygon points="776.5,244.7 774.9,243.9 774.9,245.5" fill="#ed8a3f"/>
<polyline points="783.8,244.7 795.6,244.7 795.6,280.6 807.2,280.6" fill="none" stroke="#ed8a3f" stroke-width="0.45"/>
<polygon points="807.2,280.6 805.6,279.8 805.6,281.4" fill="#ed8a3f"/>
<ellipse cx="591.5" cy="288.0" rx="3.5" ry="3" fill="#c00000"/>
<ellipse cx="591.5" cy="316.8" rx="3.5" ry="3" fill="#7030a0"/>
<ellipse cx="628.0" cy="244.7" rx="3.5" ry="3" fill="#ffc000"/>
<ellipse cx="628.0" cy="288.0" rx="3.5" ry="3" fill="#c00000"/>
<ellipse cx="628.0" cy="316.8" rx="3.5" ry="3" fill="#7030a0"/>
<ellipse cx="667.0" cy="244.7" rx="3.5" ry="3" fill="#ffc000"/>
<ellipse cx="665.6" cy="302.2" rx="3.5" ry="3" fill="#c00000"/>
<ellipse cx="703.6" cy="244.7" rx="3.5" ry="3" fill="#ffc000"/>
<ellipse cx="740.6" cy="244.7" rx="3.5" ry="3" fill="#ffc000"/>
<ellipse cx="780.3" cy="244.7" rx="3.5" ry="3" fill="#ffc000"/>
<ellipse cx="815.0" cy="244.7" rx="3.5" ry="3" fill="#ffc000"/>
<ellipse cx="815.0" cy="258.4" rx="3.5" ry="3" fill="#ffc000"/>
<ellipse cx="815.0" cy="317.0" rx="3.5" ry="3" fill="#7030a0"/>
<polygon points="719.2,259 793.4,259 798.8,264.2 793.4,264.8 793.4,275.4 719.2,275.4" fill="#5b9bd5"/>
<text transform="translate(721.5,264.0) scale(1.18,1)" font-size="4.0" fill="#fff" text-anchor="start" font-weight="500" >能线上做的线上做？没有真的对</text>
<text transform="translate(721.5,268.9) scale(1.18,1)" font-size="4.0" fill="#fff" text-anchor="start" font-weight="500" >吗？有些活动需要面对面沟通的</text>
<text transform="translate(721.5,273.5) scale(1.18,1)" font-size="4.0" fill="#fff" text-anchor="start" font-weight="500" >形式互动</text>
<rect x="799.2" y="239.6" width="27.6" height="80.9" fill="none" stroke="#c4232d" stroke-width="1.1"/>
</g>
</svg>
<svg class="abs" style="left:0;top:0" width="1080" height="492" viewBox="0 0 1080 492"><rect x="386.6" y="341.5" width="454.1" height="139.9" rx="2.6" fill="none" stroke="#c9181f" stroke-width="1.15"/></svg>
<svg class="abs" style="left:0;top:0" width="1080" height="492" viewBox="0 0 1080 492"><rect x="386.6" y="190.8" width="454.1" height="140.1" rx="2.6" fill="none" stroke="#c9181f" stroke-width="1.15"/></svg>
<svg class="abs" style="left:0;top:0" width="1080" height="492" viewBox="0 0 1080 492" font-family="Liberation Sans, Noto Sans CJK SC, sans-serif">
<defs><filter id="bl" x="-5%" y="-5%" width="110%" height="110%"><feGaussianBlur stdDeviation="0.45"/></filter><filter id="sh" x="-10%" y="-10%" width="125%" height="125%"><feGaussianBlur stdDeviation="1.6"/></filter></defs>
<g filter="url(#bl)">
<text x="411.2" y="62.4" font-size="5.4" font-weight="700" fill="#3a2a1a" text-anchor="middle">1</text>
<text x="411.2" y="79.2" font-size="5.4" font-weight="700" fill="#3a2a1a" text-anchor="middle">2</text>
<text x="411.2" y="95.7" font-size="5.4" font-weight="700" fill="#3a2a1a" text-anchor="middle">3</text>
<text x="411.2" y="112.4" font-size="5.4" font-weight="700" fill="#3a2a1a" text-anchor="middle">4</text>
<text x="411.2" y="128.7" font-size="5.4" font-weight="700" fill="#3a2a1a" text-anchor="middle">5</text>
<text x="411.2" y="145.7" font-size="5.4" font-weight="700" fill="#3a2a1a" text-anchor="middle">6</text>
<text x="411.2" y="162.9" font-size="5.4" font-weight="700" fill="#3a2a1a" text-anchor="middle">7</text>
<text x="411.2" y="180.1" font-size="5.4" font-weight="700" fill="#3a2a1a" text-anchor="middle">8</text>
<rect x="423.8" y="50.2" width="348.0" height="15.6" fill="#6687b0" />
<rect x="423.8" y="67.0" width="45.6" height="15.3" fill="#264a8f" />
<rect x="430.6" y="70.7" width="38.4" height="6.4" fill="#17375e" stroke="#c9d6ea" stroke-width="0.5"/>
<rect x="469.6" y="67.0" width="39.2" height="15.3" fill="#74c8c7" />
<rect x="471.3" y="70.7" width="37.5" height="6.4" fill="#49a8c6" stroke="#a8dede" stroke-width="0.5"/>
<rect x="509.2" y="67.0" width="38.8" height="15.3" fill="#8b4a90" />
<rect x="514.0" y="70.7" width="34.0" height="6.4" fill="#7030a0" stroke="#d9c3e0" stroke-width="0.5"/>
<rect x="647.0" y="66.3" width="46.3" height="5.7" fill="#f9a11b" />
<rect x="693.3" y="66.3" width="4.2" height="5.7" fill="#fbd9a0" />
<rect x="698.3" y="67.0" width="10.0" height="5.0" fill="#fbb812" stroke="#fde9b5" stroke-width="0.5"/>
<rect x="710.8" y="66.3" width="29.5" height="5.7" fill="#ead3ea" />
<rect x="741.7" y="66.3" width="29.3" height="5.7" fill="#4d8a7e" />
<rect x="771.0" y="66.3" width="0.8" height="5.7" fill="#6687b0" />
<rect x="423.8" y="83.4" width="45.6" height="16.1" fill="#264a8f" />
<rect x="424.2" y="84.0" width="8.2" height="14.8" fill="none" stroke="#e3e9f5" stroke-width="0.6"/>
<rect x="435.6" y="84.0" width="6.2" height="14.8" fill="none" stroke="#e3e9f5" stroke-width="0.6"/>
<rect x="443.7" y="84.0" width="25.3" height="14.8" fill="none" stroke="#e3e9f5" stroke-width="0.6"/>
<text x="456.3" y="90.6" font-size="2.6" font-weight="700" fill="#fff" text-anchor="middle">HR-HBFT</text>
<text x="456.3" y="93.9" font-size="2.6" font-weight="700" fill="#fff" text-anchor="middle">Channel Supplier</text>
<text transform="translate(427.0,91.5) rotate(90)" font-size="2.4" font-weight="700" fill="#fff" text-anchor="middle">HR Team</text>
<text transform="translate(430.0,91.5) rotate(90)" font-size="2.4" font-weight="700" fill="#fff" text-anchor="middle">HR Team</text>
<text transform="translate(438.6,91.5) rotate(90)" font-size="2.4" font-weight="700" fill="#fff" text-anchor="middle">HR Team</text>
<rect x="469.6" y="83.4" width="19.4" height="16.1" fill="#74c8c7" />
<rect x="489.0" y="83.4" width="5.4" height="16.1" fill="#bfe5e4" />
<rect x="494.4" y="83.4" width="5.6" height="16.1" fill="#74c8c7" />
<rect x="500.0" y="83.4" width="2.0" height="16.1" fill="#bfe5e4" />
<rect x="502.0" y="83.4" width="6.8" height="16.1" fill="#74c8c7" />
<rect x="502.6" y="84.0" width="5.4" height="14.6" fill="none" stroke="#d8f0ef" stroke-width="0.5"/>
<text transform="translate(477.5,91.5) rotate(90)" font-size="2.4" font-weight="700" fill="#e8f7f7" text-anchor="middle">HR Service</text>
<text transform="translate(497.2,91.5) rotate(90)" font-size="2.4" font-weight="700" fill="#e8f7f7" text-anchor="middle">HR Service</text>
<text transform="translate(505.3,91.5) rotate(90)" font-size="2.4" font-weight="700" fill="#e8f7f7" text-anchor="middle">HR Service</text>
<rect x="509.2" y="83.4" width="38.8" height="16.1" fill="#d5b9d9" />
<rect x="423.8" y="100.5" width="45.6" height="15.5" fill="#264a8f" />
<rect x="442.0" y="101.0" width="5.5" height="14.0" fill="none" stroke="#dfe6f3" stroke-width="0.5"/>
<rect x="447.5" y="101.0" width="7.5" height="14.0" fill="none" stroke="#dfe6f3" stroke-width="0.5"/>
<rect x="455.0" y="101.0" width="13.5" height="14.0" fill="none" stroke="#dfe6f3" stroke-width="0.5"/>
<rect x="424.5" y="101.0" width="1.5" height="15.0" fill="#6d8cc0" />
<text transform="translate(431.0,108) rotate(90)" font-size="2.3" font-weight="700" fill="#fff" text-anchor="middle">HRBP</text>
<text transform="translate(444.8,108) rotate(90)" font-size="2.3" font-weight="700" fill="#fff" text-anchor="middle">HRBP</text>
<text transform="translate(451.0,108) rotate(90)" font-size="2.3" font-weight="700" fill="#fff" text-anchor="middle">HRBP</text>
<text transform="translate(461.5,108) rotate(90)" font-size="2.3" font-weight="700" fill="#fff" text-anchor="middle">HRBP</text>
<rect x="469.6" y="100.5" width="39.2" height="15.5" fill="#74c8c7" />
<rect x="471.5" y="100.5" width="1.5" height="15.5" fill="#bfe5e4" />
<rect x="477.0" y="100.5" width="8.5" height="11.5" fill="none" stroke="#d8f0ef" stroke-width="0.5"/>
<rect x="502.0" y="100.5" width="3.5" height="15.5" fill="#bfe5e4" />
<rect x="509.2" y="100.5" width="19.4" height="15.5" fill="#8b4a90" />
<rect x="514.0" y="100.5" width="2.0" height="15.5" fill="#b48cba" />
<rect x="520.0" y="100.5" width="1.2" height="15.5" fill="#b48cba" />
<rect x="512.0" y="101.0" width="7.0" height="6.0" fill="none" stroke="#e0cbe3" stroke-width="0.5"/>
<rect x="424.2" y="116.0" width="45.2" height="16.3" fill="#264a8f" />
<rect x="455.3" y="117.0" width="1.0" height="14.0" fill="#c7d3ea" />
<rect x="458.2" y="117.0" width="1.0" height="14.0" fill="#c7d3ea" />
<rect x="463.6" y="117.0" width="1.0" height="14.0" fill="#c7d3ea" />
<rect x="469.6" y="116.0" width="38.8" height="16.3" fill="#74c8c7" />
<rect x="477.0" y="116.5" width="9.0" height="15.5" fill="none" stroke="#d8f0ef" stroke-width="0.5"/>
<rect x="487.5" y="116.0" width="1.5" height="16.3" fill="#bfe5e4" />
<rect x="491.5" y="116.0" width="1.5" height="16.3" fill="#bfe5e4" />
<rect x="500.5" y="116.0" width="2.5" height="16.3" fill="#bfe5e4" />
<rect x="509.0" y="116.0" width="19.6" height="16.3" fill="#8b4a90" />
<rect x="516.0" y="116.0" width="3.5" height="16.3" fill="#b48cba" />
<rect x="524.5" y="116.0" width="1.8" height="16.3" fill="#a675ab" />
<rect x="425.8" y="132.3" width="41.8" height="16.7" fill="#264a8f" />
<rect x="428.2" y="132.3" width="2.0" height="16.7" fill="#fff" />
<rect x="434.6" y="132.3" width="1.0" height="16.7" fill="#fff" />
<rect x="437.3" y="132.3" width="1.0" height="16.7" fill="#fff" />
<rect x="441.4" y="132.3" width="1.8" height="16.7" fill="#fff" />
<rect x="460.6" y="132.3" width="1.2" height="16.7" fill="#fff" />
<rect x="447.0" y="132.3" width="1.0" height="16.7" fill="#4a69a8" />
<rect x="470.0" y="132.3" width="23.3" height="16.7" fill="#74c8c7" />
<rect x="473.5" y="132.3" width="1.5" height="16.7" fill="#fff" />
<rect x="486.5" y="132.3" width="1.0" height="16.7" fill="#a6dcdb" />
<rect x="498.5" y="132.3" width="9.8" height="16.7" fill="#74c8c7" />
<rect x="500.5" y="132.3" width="1.5" height="16.7" fill="#bfe5e4" />
<rect x="504.2" y="132.3" width="1.0" height="16.7" fill="#e4f4f4" />
<rect x="509.2" y="132.3" width="19.4" height="16.7" fill="#8b4a90" />
<rect x="510.6" y="132.3" width="1.2" height="16.7" fill="#fff" />
<rect x="517.0" y="132.3" width="1.0" height="16.7" fill="#a06aa5" />
<rect x="431.5" y="149.0" width="7.0" height="16.0" fill="#8ea6d3" />
<rect x="433.0" y="149.0" width="1.0" height="16.0" fill="#fff" />
<rect x="435.6" y="149.0" width="0.8" height="16.0" fill="#fff" />
<rect x="443.3" y="149.0" width="6.7" height="16.0" fill="#264a8f" />
<rect x="455.8" y="149.0" width="11.8" height="16.0" fill="#264a8f" />
<rect x="462.8" y="149.0" width="0.8" height="16.0" fill="#6f8cc4" />
<rect x="470.0" y="149.0" width="2.3" height="16.0" fill="#9fdbd9" />
<rect x="476.7" y="149.0" width="11.8" height="16.0" fill="#74c8c7" />
<rect x="484.5" y="149.0" width="0.8" height="16.0" fill="#a6dcdb" />
<rect x="508.4" y="149.0" width="4.1" height="16.0" fill="#c7a5cb" />
<rect x="510.0" y="149.0" width="1.0" height="16.0" fill="#fff" />
<rect x="513.4" y="149.0" width="15.2" height="16.0" fill="#8b4a90" />
<rect x="519.0" y="149.0" width="0.8" height="16.0" fill="#a06aa5" />
<rect x="432.2" y="165.0" width="1.2" height="17.0" fill="#8ea6d3" />
<rect x="436.2" y="165.0" width="1.2" height="17.0" fill="#8ea6d3" />
<rect x="510.4" y="165.0" width="1.0" height="17.0" fill="#b890bc" />
<rect x="520.4" y="165.0" width="1.0" height="17.0" fill="#b890bc" />
<rect x="495.1" y="100.5" width="1.7" height="81.5" fill="#f5e896" />
</g>
<rect x="528.5" y="51.4" width="118.7" height="141.2" fill="#fff" stroke="#ececec" stroke-width="0.5"/>
<g filter="url(#bl)">
<rect x="531.0" y="55.0" width="52.2" height="24.5" fill="none" fill="#fff" stroke="#dcdcdc" stroke-width="0.4"/>
<text x="533.4" y="58" font-size="2" font-weight="700" fill="#333">员工年龄</text>
<line x1="536" y1="59.5" x2="577" y2="59.5" stroke="#e8e8e8" stroke-width="0.3"/>
<line x1="536" y1="62.6" x2="577" y2="62.6" stroke="#e8e8e8" stroke-width="0.3"/>
<line x1="536" y1="65.7" x2="577" y2="65.7" stroke="#e8e8e8" stroke-width="0.3"/>
<line x1="536" y1="68.8" x2="577" y2="68.8" stroke="#e8e8e8" stroke-width="0.3"/>
<line x1="536" y1="71.9" x2="577" y2="71.9" stroke="#e8e8e8" stroke-width="0.3"/>
<line x1="536" y1="75.0" x2="577" y2="75.0" stroke="#e8e8e8" stroke-width="0.3"/>
<rect x="539.6" y="70.9" width="1.4" height="4.1" fill="#4a86d0" />
<rect x="543.7" y="67.6" width="1.4" height="7.4" fill="#4a86d0" />
<rect x="547.8" y="64.0" width="1.4" height="11.0" fill="#4a86d0" />
<rect x="551.8" y="60.3" width="1.4" height="14.7" fill="#4a86d0" />
<rect x="556.3" y="64.0" width="1.4" height="11.0" fill="#4a86d0" />
<rect x="560.3" y="67.6" width="1.4" height="7.4" fill="#4a86d0" />
<rect x="564.3" y="71.0" width="1.4" height="4.0" fill="#4a86d0" />
<rect x="568.3" y="71.0" width="1.4" height="4.0" fill="#4a86d0" />
<rect x="588.3" y="55.0" width="54.5" height="24.5" fill="none" fill="#fff" stroke="#dcdcdc" stroke-width="0.4"/>
<text x="590.6" y="58.6" font-size="2" font-weight="700" fill="#333">学历结构</text>
<path d="M616.00,68.40 L616.00,60.40 A10.60,8.00 0 0 1 621.11,61.39 Z" fill="#4f81bd"/>
<path d="M616.00,68.40 L621.11,61.39 A10.60,8.00 0 0 1 626.60,68.40 Z" fill="#c0504d"/>
<path d="M616.00,68.40 L626.60,68.40 A10.60,8.00 0 0 1 615.33,76.38 Z" fill="#9bbb59"/>
<path d="M616.00,68.40 L615.33,76.38 A10.60,8.00 0 0 1 610.32,75.15 Z" fill="#8064a2"/>
<path d="M616.00,68.40 L610.32,75.15 A10.60,8.00 0 0 1 606.41,71.81 Z" fill="#4bacc6"/>
<path d="M616.00,68.40 L606.41,71.81 A10.60,8.00 0 0 1 607.05,64.11 Z" fill="#f79646"/>
<path d="M616.00,68.40 L607.05,64.11 A10.60,8.00 0 0 1 616.00,60.40 Z" fill="#1f497d"/>
<rect x="600.0" y="59.3" width="9.0" height="0.9" fill="#d2d2d2"/>
<rect x="619.0" y="59.6" width="9.0" height="0.9" fill="#d2d2d2"/>
<rect x="627.0" y="63.8" width="9.0" height="0.9" fill="#d2d2d2"/>
<rect x="595.0" y="67.7" width="8.0" height="0.9" fill="#d2d2d2"/>
<rect x="598.0" y="74.6" width="7.0" height="0.9" fill="#d2d2d2"/>
<rect x="624.0" y="74.3" width="9.0" height="0.9" fill="#d2d2d2"/>
<rect x="603.0" y="77.0" width="9.0" height="0.9" fill="#d2d2d2"/>
<rect x="531.0" y="82.8" width="52.5" height="26.8" fill="none" fill="#fff" stroke="#dcdcdc" stroke-width="0.4"/>
<text x="533.4" y="85.6" font-size="2" font-weight="700" fill="#333">司龄分布</text>
<line x1="546.3" y1="88" x2="546.3" y2="107" stroke="#e6e6e6" stroke-width="0.3"/>
<line x1="552.8" y1="88" x2="552.8" y2="107" stroke="#e6e6e6" stroke-width="0.3"/>
<line x1="559.3" y1="88" x2="559.3" y2="107" stroke="#e6e6e6" stroke-width="0.3"/>
<line x1="565.8" y1="88" x2="565.8" y2="107" stroke="#e6e6e6" stroke-width="0.3"/>
<line x1="572.3" y1="88" x2="572.3" y2="107" stroke="#e6e6e6" stroke-width="0.3"/>
<line x1="578.8" y1="88" x2="578.8" y2="107" stroke="#e6e6e6" stroke-width="0.3"/>
<rect x="539.8" y="89.3" width="7.0" height="1.4" fill="#4a86d0" />
<rect x="535" y="89.5" width="3.6" height="0.9" fill="#bdbdbd"/>
<rect x="539.8" y="92.7" width="13.5" height="1.4" fill="#4a86d0" />
<rect x="535" y="93.0" width="3.6" height="0.9" fill="#bdbdbd"/>
<rect x="539.8" y="96.3" width="13.5" height="1.4" fill="#4a86d0" />
<rect x="535" y="96.5" width="3.6" height="0.9" fill="#bdbdbd"/>
<rect x="539.8" y="100.0" width="32.6" height="1.4" fill="#4a86d0" />
<rect x="535" y="100.2" width="3.6" height="0.9" fill="#bdbdbd"/>
<rect x="539.8" y="103.7" width="19.7" height="1.4" fill="#4a86d0" />
<rect x="535" y="104.0" width="3.6" height="0.9" fill="#bdbdbd"/>
<rect x="588.3" y="82.8" width="54.5" height="26.8" fill="none" fill="#fff" stroke="#dcdcdc" stroke-width="0.4"/>
<text x="590.6" y="85.6" font-size="2" font-weight="700" fill="#333">职级分布</text>
<line x1="604.5" y1="88" x2="604.5" y2="108" stroke="#e6e6e6" stroke-width="0.3"/>
<line x1="611.4" y1="88" x2="611.4" y2="108" stroke="#e6e6e6" stroke-width="0.3"/>
<line x1="618.3" y1="88" x2="618.3" y2="108" stroke="#e6e6e6" stroke-width="0.3"/>
<line x1="625.2" y1="88" x2="625.2" y2="108" stroke="#e6e6e6" stroke-width="0.3"/>
<line x1="632.1" y1="88" x2="632.1" y2="108" stroke="#e6e6e6" stroke-width="0.3"/>
<line x1="639.0" y1="88" x2="639.0" y2="108" stroke="#e6e6e6" stroke-width="0.3"/>
<rect x="597.6" y="89.7" width="6.9" height="1.4" fill="#4a86d0" />
<rect x="592.6" y="90.0" width="3.8" height="0.9" fill="#bdbdbd"/>
<rect x="597.6" y="93.4" width="14.3" height="1.4" fill="#4a86d0" />
<rect x="592.6" y="93.6" width="3.8" height="0.9" fill="#bdbdbd"/>
<rect x="597.6" y="97.1" width="14.3" height="1.4" fill="#4a86d0" />
<rect x="592.6" y="97.3" width="3.8" height="0.9" fill="#bdbdbd"/>
<rect x="597.6" y="101.1" width="34.3" height="1.4" fill="#4a86d0" />
<rect x="592.6" y="101.3" width="3.8" height="0.9" fill="#bdbdbd"/>
<rect x="597.6" y="104.8" width="20.8" height="1.4" fill="#4a86d0" />
<rect x="592.6" y="105.0" width="3.8" height="0.9" fill="#bdbdbd"/>
<rect x="531.0" y="111.5" width="52.5" height="23.1" fill="none" fill="#fff" stroke="#dcdcdc" stroke-width="0.4"/>
<text x="533.4" y="114.4" font-size="2" font-weight="700" fill="#333">性别比例</text>
<path d="M557.40,122.30 L557.40,115.30 A9.30,7.00 0 1 1 552.92,128.43 Z" fill="#5b9bd5"/>
<path d="M557.40,122.30 L552.92,128.43 A9.30,7.00 0 0 1 557.40,115.30 Z" fill="#ed7d31"/>
<rect x="554.5" y="131.7" width="1.5" height="0.7" fill="#5b9bd5" />
<rect x="557.6" y="131.7" width="1.4" height="0.7" fill="#ed7d31" />
<rect x="588.3" y="111.5" width="54.5" height="23.1" fill="none" fill="#fff" stroke="#dcdcdc" stroke-width="0.4"/>
<rect x="590.8" y="112.8" width="1.8" height="1.0" fill="#4a86d0" />
<text x="593.6" y="114.2" font-size="2" fill="#666">用工类型占比</text>
<path d="M616.00,118.30 A8.20,6.40 0 0 1 619.95,130.31 L618.05,127.62 A4.26,3.33 0 0 0 616.00,121.37 Z" fill="#4db5ff"/>
<path d="M619.95,130.31 A8.20,6.40 0 0 1 608.20,122.72 L611.94,123.67 A4.26,3.33 0 0 0 618.05,127.62 Z" fill="#f5b277"/>
<path d="M608.20,122.72 A8.20,6.40 0 0 1 616.00,118.30 L616.00,121.37 A4.26,3.33 0 0 0 611.94,123.67 Z" fill="#5fd3c4"/>
<rect x="635.4" y="114.8" width="7.6" height="3.0" fill="#3a3a3a" />
<rect x="592.6" y="135.2" width="4.0" height="0.7" fill="#4db5ff" />
<rect x="601.5" y="135.2" width="4.0" height="0.7" fill="#f5b277" />
<rect x="610.0" y="135.2" width="4.0" height="0.7" fill="#5fd3c4" />
<rect x="617.5" y="135.2" width="4.0" height="0.7" fill="#7fc4ff" />
<rect x="634.0" y="135.2" width="4.0" height="0.7" fill="#7fc4ff" />
<rect x="531.0" y="141.0" width="113.9" height="50.0" fill="none" fill="#fff" stroke="#dcdcdc" stroke-width="0.4"/>
<text x="588.3" y="146.8" font-size="4.2" fill="#666" text-anchor="middle" letter-spacing="0.3">当月人事变动</text>
<line x1="540" y1="150.00" x2="633" y2="150.00" stroke="#e2e2e2" stroke-width="0.35"/>
<rect x="534.2" y="149.55" width="2.6" height="0.9" fill="#999"/>
<rect x="636.3" y="149.55" width="4.8" height="0.9" fill="#999"/>
<line x1="540" y1="153.31" x2="633" y2="153.31" stroke="#e2e2e2" stroke-width="0.35"/>
<rect x="534.2" y="152.86" width="2.6" height="0.9" fill="#999"/>
<rect x="636.3" y="152.86" width="4.8" height="0.9" fill="#999"/>
<line x1="540" y1="156.62" x2="633" y2="156.62" stroke="#e2e2e2" stroke-width="0.35"/>
<rect x="534.2" y="156.17" width="2.6" height="0.9" fill="#999"/>
<rect x="636.3" y="156.17" width="4.8" height="0.9" fill="#999"/>
<line x1="540" y1="159.93" x2="633" y2="159.93" stroke="#e2e2e2" stroke-width="0.35"/>
<rect x="534.2" y="159.48" width="2.6" height="0.9" fill="#999"/>
<line x1="540" y1="163.24" x2="633" y2="163.24" stroke="#e2e2e2" stroke-width="0.35"/>
<rect x="534.2" y="162.79" width="2.6" height="0.9" fill="#999"/>
<rect x="636.3" y="162.79" width="4.8" height="0.9" fill="#999"/>
<line x1="540" y1="166.55" x2="633" y2="166.55" stroke="#e2e2e2" stroke-width="0.35"/>
<rect x="534.2" y="166.10" width="2.6" height="0.9" fill="#999"/>
<line x1="540" y1="169.86" x2="633" y2="169.86" stroke="#e2e2e2" stroke-width="0.35"/>
<rect x="534.2" y="169.41" width="2.6" height="0.9" fill="#999"/>
<rect x="636.3" y="169.41" width="4.8" height="0.9" fill="#999"/>
<line x1="540" y1="173.17" x2="633" y2="173.17" stroke="#e2e2e2" stroke-width="0.35"/>
<rect x="534.2" y="172.72" width="2.6" height="0.9" fill="#999"/>
<line x1="540" y1="176.48" x2="633" y2="176.48" stroke="#e2e2e2" stroke-width="0.35"/>
<rect x="534.2" y="176.03" width="2.6" height="0.9" fill="#999"/>
<rect x="636.3" y="176.03" width="4.8" height="0.9" fill="#999"/>
<line x1="540" y1="179.79" x2="633" y2="179.79" stroke="#e2e2e2" stroke-width="0.35"/>
<rect x="534.2" y="179.34" width="2.6" height="0.9" fill="#999"/>
<rect x="544.0" y="173.7" width="3.2" height="6.1" fill="#5b9bd5" />
<rect x="548.5" y="167.2" width="3.2" height="12.6" fill="#ed7d31" />
<rect x="545.8" y="181.4" width="3.6" height="0.8" fill="#aaa"/>
<rect x="559.5" y="160.3" width="3.2" height="19.5" fill="#5b9bd5" />
<rect x="563.9" y="153.7" width="3.2" height="26.1" fill="#ed7d31" />
<rect x="561.3" y="181.4" width="3.6" height="0.8" fill="#aaa"/>
<rect x="575.0" y="153.7" width="3.2" height="26.1" fill="#5b9bd5" />
<rect x="579.3" y="167.2" width="3.2" height="12.6" fill="#ed7d31" />
<rect x="576.8" y="181.4" width="3.6" height="0.8" fill="#aaa"/>
<rect x="590.7" y="167.2" width="3.2" height="12.6" fill="#5b9bd5" />
<rect x="595.0" y="173.7" width="3.2" height="6.1" fill="#ed7d31" />
<rect x="592.5" y="181.4" width="3.6" height="0.8" fill="#aaa"/>
<rect x="606.7" y="173.7" width="3.2" height="6.1" fill="#5b9bd5" />
<rect x="610.3" y="173.7" width="3.2" height="6.1" fill="#ed7d31" />
<rect x="608.5" y="181.4" width="3.6" height="0.8" fill="#aaa"/>
<rect x="622.0" y="173.7" width="3.2" height="6.1" fill="#5b9bd5" />
<rect x="626.5" y="167.2" width="3.2" height="12.6" fill="#ed7d31" />
<rect x="623.8" y="181.4" width="3.6" height="0.8" fill="#aaa"/>
<polyline points="547.5,172 563,165.2 579,159 595,163.5 609,172.5 627,155" fill="none" stroke="#6a6a6a" stroke-width="0.4"/>
<polyline points="547.5,178.5 563,177.6 579,179 595,179 611,179.3 627,178.8" fill="none" stroke="#ffc000" stroke-width="0.5"/>
<rect x="627.5" y="154.4" width="6" height="1" fill="#888"/>
<rect x="550.0" y="187.3" width="6.2" height="1.1" fill="#5b9bd5" />
<rect x="556.8" y="187.4" width="9.5" height="0.9" fill="#aaa"/>
<rect x="571.7" y="187.3" width="6.2" height="1.1" fill="#ed7d31" />
<rect x="578.5" y="187.4" width="9.5" height="0.9" fill="#aaa"/>
<rect x="593.0" y="187.6" width="6.0" height="0.5" fill="#a5a5a5" />
<rect x="599.6" y="187.4" width="7.5" height="0.9" fill="#aaa"/>
<rect x="612.0" y="187.6" width="6.0" height="0.5" fill="#ffc000" />
<rect x="618.6" y="187.4" width="7.5" height="0.9" fill="#aaa"/>
</g>
<rect x="649.5" y="74" width="165" height="118.5" fill="#000" opacity="0.5" filter="url(#sh)"/>
<rect x="647" y="71.3" width="164.8" height="118" fill="#f7f7f7"/>
<g filter="url(#bl)">
<line x1="727.8" y1="78.8" x2="709.5" y2="104.2" stroke="#86bdf6" stroke-width="0.75"/>
<line x1="727.8" y1="78.8" x2="730.3" y2="104.2" stroke="#86bdf6" stroke-width="0.75"/>
<line x1="727.8" y1="78.8" x2="744.2" y2="104.2" stroke="#86bdf6" stroke-width="0.75"/>
<line x1="709.5" y1="104.2" x2="684.7" y2="129.2" stroke="#86bdf6" stroke-width="0.75"/>
<line x1="709.5" y1="104.2" x2="690.5" y2="129.2" stroke="#86bdf6" stroke-width="0.75"/>
<line x1="709.5" y1="104.2" x2="735.8" y2="129.2" stroke="#86bdf6" stroke-width="0.75"/>
<line x1="730.3" y1="104.2" x2="710.5" y2="129.2" stroke="#86bdf6" stroke-width="0.75"/>
<line x1="730.3" y1="104.2" x2="713.3" y2="129.2" stroke="#86bdf6" stroke-width="0.75"/>
<line x1="730.3" y1="104.2" x2="722.0" y2="129.2" stroke="#86bdf6" stroke-width="0.75"/>
<line x1="730.3" y1="104.2" x2="753.8" y2="129.2" stroke="#86bdf6" stroke-width="0.75"/>
<line x1="744.2" y1="104.2" x2="713.3" y2="129.2" stroke="#86bdf6" stroke-width="0.75"/>
<line x1="744.2" y1="104.2" x2="765.3" y2="129.2" stroke="#86bdf6" stroke-width="0.75"/>
<line x1="744.2" y1="104.2" x2="773.3" y2="129.2" stroke="#86bdf6" stroke-width="0.75"/>
<line x1="744.2" y1="104.2" x2="710.5" y2="129.2" stroke="#86bdf6" stroke-width="0.75"/>
<line x1="730.3" y1="104.2" x2="735.8" y2="129.2" stroke="#86bdf6" stroke-width="0.75"/>
<line x1="684.7" y1="129.2" x2="670.8" y2="154.7" stroke="#86bdf6" stroke-width="0.75"/>
<line x1="684.7" y1="129.2" x2="674.2" y2="154.7" stroke="#86bdf6" stroke-width="0.75"/>
<line x1="684.7" y1="129.2" x2="684.7" y2="154.7" stroke="#86bdf6" stroke-width="0.75"/>
<line x1="690.5" y1="129.2" x2="674.2" y2="154.7" stroke="#86bdf6" stroke-width="0.75"/>
<line x1="690.5" y1="129.2" x2="689.7" y2="154.7" stroke="#86bdf6" stroke-width="0.75"/>
<line x1="690.5" y1="129.2" x2="695.0" y2="154.7" stroke="#86bdf6" stroke-width="0.75"/>
<line x1="690.5" y1="129.2" x2="670.8" y2="154.7" stroke="#86bdf6" stroke-width="0.75"/>
<line x1="710.5" y1="129.2" x2="689.7" y2="154.7" stroke="#86bdf6" stroke-width="0.75"/>
<line x1="710.5" y1="129.2" x2="695.0" y2="154.7" stroke="#86bdf6" stroke-width="0.75"/>
<line x1="710.5" y1="129.2" x2="711.3" y2="154.7" stroke="#86bdf6" stroke-width="0.75"/>
<line x1="710.5" y1="129.2" x2="702.5" y2="154.7" stroke="#86bdf6" stroke-width="0.75"/>
<line x1="710.5" y1="129.2" x2="716.3" y2="154.7" stroke="#86bdf6" stroke-width="0.75"/>
<line x1="713.3" y1="129.2" x2="711.3" y2="154.7" stroke="#86bdf6" stroke-width="0.75"/>
<line x1="713.3" y1="129.2" x2="716.3" y2="154.7" stroke="#86bdf6" stroke-width="0.75"/>
<line x1="713.3" y1="129.2" x2="695.0" y2="154.7" stroke="#86bdf6" stroke-width="0.75"/>
<line x1="722.0" y1="129.2" x2="716.3" y2="154.7" stroke="#86bdf6" stroke-width="0.75"/>
<line x1="722.0" y1="129.2" x2="725.0" y2="154.7" stroke="#86bdf6" stroke-width="0.75"/>
<line x1="722.0" y1="129.2" x2="711.3" y2="154.7" stroke="#86bdf6" stroke-width="0.75"/>
<line x1="735.8" y1="129.2" x2="725.0" y2="154.7" stroke="#86bdf6" stroke-width="0.75"/>
<line x1="735.8" y1="129.2" x2="734.5" y2="154.7" stroke="#86bdf6" stroke-width="0.75"/>
<line x1="735.8" y1="129.2" x2="740.3" y2="154.7" stroke="#86bdf6" stroke-width="0.75"/>
<line x1="735.8" y1="129.2" x2="753.7" y2="154.7" stroke="#86bdf6" stroke-width="0.75"/>
<line x1="753.8" y1="129.2" x2="753.7" y2="154.7" stroke="#86bdf6" stroke-width="0.75"/>
<line x1="753.8" y1="129.2" x2="759.2" y2="154.7" stroke="#86bdf6" stroke-width="0.75"/>
<line x1="753.8" y1="129.2" x2="740.3" y2="154.7" stroke="#86bdf6" stroke-width="0.75"/>
<line x1="753.8" y1="129.2" x2="767.8" y2="154.7" stroke="#86bdf6" stroke-width="0.75"/>
<line x1="765.3" y1="129.2" x2="767.8" y2="154.7" stroke="#86bdf6" stroke-width="0.75"/>
<line x1="765.3" y1="129.2" x2="773.0" y2="154.7" stroke="#86bdf6" stroke-width="0.75"/>
<line x1="773.3" y1="129.2" x2="773.0" y2="154.7" stroke="#86bdf6" stroke-width="0.75"/>
<line x1="773.3" y1="129.2" x2="782.0" y2="154.7" stroke="#86bdf6" stroke-width="0.75"/>
<line x1="773.3" y1="129.2" x2="790.5" y2="154.7" stroke="#86bdf6" stroke-width="0.75"/>
<line x1="773.3" y1="129.2" x2="767.8" y2="154.7" stroke="#86bdf6" stroke-width="0.75"/>
<line x1="713.3" y1="129.2" x2="734.5" y2="154.7" stroke="#86bdf6" stroke-width="0.75"/>
<line x1="735.8" y1="129.2" x2="711.3" y2="154.7" stroke="#86bdf6" stroke-width="0.75"/>
<line x1="773.3" y1="129.2" x2="759.2" y2="154.7" stroke="#86bdf6" stroke-width="0.75"/>
<line x1="670.8" y1="154.7" x2="678.1" y2="179.7" stroke="#86bdf6" stroke-width="0.75"/>
<line x1="670.8" y1="154.7" x2="688.1" y2="179.9" stroke="#86bdf6" stroke-width="0.75"/>
<line x1="670.8" y1="154.7" x2="671.3" y2="179.5" stroke="#86bdf6" stroke-width="0.75"/>
<line x1="670.8" y1="154.7" x2="660.0" y2="179.4" stroke="#86bdf6" stroke-width="0.75"/>
<line x1="674.2" y1="154.7" x2="660.0" y2="179.4" stroke="#86bdf6" stroke-width="0.75"/>
<line x1="674.2" y1="154.7" x2="663.6" y2="179.2" stroke="#86bdf6" stroke-width="0.75"/>
<line x1="674.2" y1="154.7" x2="678.1" y2="179.7" stroke="#86bdf6" stroke-width="0.75"/>
<line x1="674.2" y1="154.7" x2="691.6" y2="179.7" stroke="#86bdf6" stroke-width="0.75"/>
<line x1="684.7" y1="154.7" x2="695.0" y2="179.2" stroke="#86bdf6" stroke-width="0.75"/>
<line x1="684.7" y1="154.7" x2="668.9" y2="179.5" stroke="#86bdf6" stroke-width="0.75"/>
<line x1="684.7" y1="154.7" x2="666.6" y2="179.2" stroke="#86bdf6" stroke-width="0.75"/>
<line x1="684.7" y1="154.7" x2="697.7" y2="179.8" stroke="#86bdf6" stroke-width="0.75"/>
<line x1="684.7" y1="154.7" x2="668.9" y2="179.5" stroke="#86bdf6" stroke-width="0.75"/>
<line x1="689.7" y1="154.7" x2="678.1" y2="179.7" stroke="#86bdf6" stroke-width="0.75"/>
<line x1="689.7" y1="154.7" x2="671.3" y2="179.5" stroke="#86bdf6" stroke-width="0.75"/>
<line x1="689.7" y1="154.7" x2="706.2" y2="179.7" stroke="#86bdf6" stroke-width="0.75"/>
<line x1="689.7" y1="154.7" x2="700.6" y2="179.7" stroke="#86bdf6" stroke-width="0.75"/>
<line x1="695.0" y1="154.7" x2="697.7" y2="179.8" stroke="#86bdf6" stroke-width="0.75"/>
<line x1="695.0" y1="154.7" x2="691.6" y2="179.7" stroke="#86bdf6" stroke-width="0.75"/>
<line x1="695.0" y1="154.7" x2="714.6" y2="179.2" stroke="#86bdf6" stroke-width="0.75"/>
<line x1="695.0" y1="154.7" x2="703.4" y2="179.9" stroke="#86bdf6" stroke-width="0.75"/>
<line x1="695.0" y1="154.7" x2="710.3" y2="179.8" stroke="#86bdf6" stroke-width="0.75"/>
<line x1="702.5" y1="154.7" x2="714.6" y2="179.2" stroke="#86bdf6" stroke-width="0.75"/>
<line x1="702.5" y1="154.7" x2="706.2" y2="179.7" stroke="#86bdf6" stroke-width="0.75"/>
<line x1="702.5" y1="154.7" x2="688.1" y2="179.9" stroke="#86bdf6" stroke-width="0.75"/>
<line x1="702.5" y1="154.7" x2="703.4" y2="179.9" stroke="#86bdf6" stroke-width="0.75"/>
<line x1="702.5" y1="154.7" x2="688.1" y2="179.9" stroke="#86bdf6" stroke-width="0.75"/>
<line x1="711.3" y1="154.7" x2="706.2" y2="179.7" stroke="#86bdf6" stroke-width="0.75"/>
<line x1="711.3" y1="154.7" x2="697.7" y2="179.8" stroke="#86bdf6" stroke-width="0.75"/>
<line x1="711.3" y1="154.7" x2="710.3" y2="179.8" stroke="#86bdf6" stroke-width="0.75"/>
<line x1="711.3" y1="154.7" x2="728.0" y2="179.7" stroke="#86bdf6" stroke-width="0.75"/>
<line x1="711.3" y1="154.7" x2="720.8" y2="179.8" stroke="#86bdf6" stroke-width="0.75"/>
<line x1="716.3" y1="154.7" x2="697.7" y2="179.8" stroke="#86bdf6" stroke-width="0.75"/>
<line x1="716.3" y1="154.7" x2="724.3" y2="180.0" stroke="#86bdf6" stroke-width="0.75"/>
<line x1="716.3" y1="154.7" x2="731.2" y2="179.9" stroke="#86bdf6" stroke-width="0.75"/>
<line x1="716.3" y1="154.7" x2="703.4" y2="179.9" stroke="#86bdf6" stroke-width="0.75"/>
<line x1="725.0" y1="154.7" x2="734.4" y2="179.8" stroke="#86bdf6" stroke-width="0.75"/>
<line x1="725.0" y1="154.7" x2="731.2" y2="179.9" stroke="#86bdf6" stroke-width="0.75"/>
<line x1="725.0" y1="154.7" x2="710.3" y2="179.8" stroke="#86bdf6" stroke-width="0.75"/>
<line x1="725.0" y1="154.7" x2="738.2" y2="179.7" stroke="#86bdf6" stroke-width="0.75"/>
<line x1="734.5" y1="154.7" x2="752.3" y2="179.2" stroke="#86bdf6" stroke-width="0.75"/>
<line x1="734.5" y1="154.7" x2="728.0" y2="179.7" stroke="#86bdf6" stroke-width="0.75"/>
<line x1="734.5" y1="154.7" x2="718.5" y2="179.3" stroke="#86bdf6" stroke-width="0.75"/>
<line x1="734.5" y1="154.7" x2="714.6" y2="179.2" stroke="#86bdf6" stroke-width="0.75"/>
<line x1="734.5" y1="154.7" x2="752.3" y2="179.2" stroke="#86bdf6" stroke-width="0.75"/>
<line x1="740.3" y1="154.7" x2="752.3" y2="179.2" stroke="#86bdf6" stroke-width="0.75"/>
<line x1="740.3" y1="154.7" x2="734.4" y2="179.8" stroke="#86bdf6" stroke-width="0.75"/>
<line x1="740.3" y1="154.7" x2="758.6" y2="179.6" stroke="#86bdf6" stroke-width="0.75"/>
<line x1="740.3" y1="154.7" x2="758.6" y2="179.6" stroke="#86bdf6" stroke-width="0.75"/>
<line x1="753.7" y1="154.7" x2="734.4" y2="179.8" stroke="#86bdf6" stroke-width="0.75"/>
<line x1="753.7" y1="154.7" x2="752.3" y2="179.2" stroke="#86bdf6" stroke-width="0.75"/>
<line x1="753.7" y1="154.7" x2="772.7" y2="179.3" stroke="#86bdf6" stroke-width="0.75"/>
<line x1="753.7" y1="154.7" x2="745.9" y2="179.1" stroke="#86bdf6" stroke-width="0.75"/>
<line x1="753.7" y1="154.7" x2="762.6" y2="180.0" stroke="#86bdf6" stroke-width="0.75"/>
<line x1="759.2" y1="154.7" x2="765.7" y2="179.5" stroke="#86bdf6" stroke-width="0.75"/>
<line x1="759.2" y1="154.7" x2="776.2" y2="179.4" stroke="#86bdf6" stroke-width="0.75"/>
<line x1="759.2" y1="154.7" x2="748.4" y2="179.2" stroke="#86bdf6" stroke-width="0.75"/>
<line x1="759.2" y1="154.7" x2="745.9" y2="179.1" stroke="#86bdf6" stroke-width="0.75"/>
<line x1="759.2" y1="154.7" x2="776.2" y2="179.4" stroke="#86bdf6" stroke-width="0.75"/>
<line x1="767.8" y1="154.7" x2="758.6" y2="179.6" stroke="#86bdf6" stroke-width="0.75"/>
<line x1="767.8" y1="154.7" x2="770.0" y2="179.3" stroke="#86bdf6" stroke-width="0.75"/>
<line x1="767.8" y1="154.7" x2="762.6" y2="180.0" stroke="#86bdf6" stroke-width="0.75"/>
<line x1="767.8" y1="154.7" x2="748.4" y2="179.2" stroke="#86bdf6" stroke-width="0.75"/>
<line x1="767.8" y1="154.7" x2="758.6" y2="179.6" stroke="#86bdf6" stroke-width="0.75"/>
<line x1="773.0" y1="154.7" x2="779.3" y2="179.5" stroke="#86bdf6" stroke-width="0.75"/>
<line x1="773.0" y1="154.7" x2="762.6" y2="180.0" stroke="#86bdf6" stroke-width="0.75"/>
<line x1="773.0" y1="154.7" x2="752.3" y2="179.2" stroke="#86bdf6" stroke-width="0.75"/>
<line x1="773.0" y1="154.7" x2="787.2" y2="179.8" stroke="#86bdf6" stroke-width="0.75"/>
<line x1="773.0" y1="154.7" x2="787.2" y2="179.8" stroke="#86bdf6" stroke-width="0.75"/>
<line x1="782.0" y1="154.7" x2="795.3" y2="179.5" stroke="#86bdf6" stroke-width="0.75"/>
<line x1="782.0" y1="154.7" x2="800.1" y2="179.3" stroke="#86bdf6" stroke-width="0.75"/>
<line x1="782.0" y1="154.7" x2="791.4" y2="179.9" stroke="#86bdf6" stroke-width="0.75"/>
<line x1="782.0" y1="154.7" x2="765.7" y2="179.5" stroke="#86bdf6" stroke-width="0.75"/>
<line x1="790.5" y1="154.7" x2="779.3" y2="179.5" stroke="#86bdf6" stroke-width="0.75"/>
<line x1="790.5" y1="154.7" x2="783.6" y2="179.8" stroke="#86bdf6" stroke-width="0.75"/>
<line x1="790.5" y1="154.7" x2="803.0" y2="179.2" stroke="#86bdf6" stroke-width="0.75"/>
<line x1="790.5" y1="154.7" x2="776.2" y2="179.4" stroke="#86bdf6" stroke-width="0.75"/>
<circle cx="660.0" cy="179.4" r="2.2" fill="#fb8b3c"/>
<circle cx="663.6" cy="179.2" r="2.6" fill="#fb8b3c"/>
<circle cx="666.6" cy="179.2" r="2.6" fill="#fb8b3c"/>
<circle cx="668.9" cy="179.5" r="2.2" fill="#fb8b3c"/>
<circle cx="671.3" cy="179.5" r="2.8" fill="#fb8b3c"/>
<circle cx="673.8" cy="179.3" r="2.7" fill="#fb8b3c"/>
<circle cx="678.1" cy="179.7" r="2.5" fill="#fb8b3c"/>
<circle cx="682.4" cy="179.1" r="2.9" fill="#fb8b3c"/>
<circle cx="685.3" cy="179.2" r="2.2" fill="#fb8b3c"/>
<circle cx="688.1" cy="179.9" r="2.3" fill="#fb8b3c"/>
<circle cx="691.6" cy="179.7" r="2.4" fill="#fb8b3c"/>
<circle cx="695.0" cy="179.2" r="2.2" fill="#fb8b3c"/>
<circle cx="697.7" cy="179.8" r="2.5" fill="#fb8b3c"/>
<circle cx="700.6" cy="179.7" r="2.5" fill="#fb8b3c"/>
<circle cx="703.4" cy="179.9" r="2.7" fill="#fb8b3c"/>
<circle cx="706.2" cy="179.7" r="2.6" fill="#fb8b3c"/>
<circle cx="710.3" cy="179.8" r="2.4" fill="#fb8b3c"/>
<circle cx="714.6" cy="179.2" r="2.5" fill="#fb8b3c"/>
<circle cx="718.5" cy="179.3" r="2.5" fill="#fb8b3c"/>
<circle cx="720.8" cy="179.8" r="2.8" fill="#fb8b3c"/>
<circle cx="724.3" cy="180.0" r="2.4" fill="#fb8b3c"/>
<circle cx="728.0" cy="179.7" r="2.6" fill="#fb8b3c"/>
<circle cx="731.2" cy="179.9" r="3.0" fill="#fb8b3c"/>
<circle cx="734.4" cy="179.8" r="2.2" fill="#fb8b3c"/>
<circle cx="738.2" cy="179.7" r="3.0" fill="#fb8b3c"/>
<circle cx="742.2" cy="179.4" r="2.4" fill="#fb8b3c"/>
<circle cx="745.9" cy="179.1" r="2.5" fill="#fb8b3c"/>
<circle cx="748.4" cy="179.2" r="2.2" fill="#fb8b3c"/>
<circle cx="752.3" cy="179.2" r="2.3" fill="#fb8b3c"/>
<circle cx="755.4" cy="180.0" r="2.2" fill="#fb8b3c"/>
<circle cx="758.6" cy="179.6" r="2.9" fill="#fb8b3c"/>
<circle cx="762.6" cy="180.0" r="2.4" fill="#fb8b3c"/>
<circle cx="765.7" cy="179.5" r="2.9" fill="#fb8b3c"/>
<circle cx="770.0" cy="179.3" r="2.3" fill="#fb8b3c"/>
<circle cx="772.7" cy="179.3" r="2.5" fill="#fb8b3c"/>
<circle cx="776.2" cy="179.4" r="2.1" fill="#fb8b3c"/>
<circle cx="779.3" cy="179.5" r="2.6" fill="#fb8b3c"/>
<circle cx="783.6" cy="179.8" r="2.6" fill="#fb8b3c"/>
<circle cx="787.2" cy="179.8" r="2.1" fill="#fb8b3c"/>
<circle cx="791.4" cy="179.9" r="2.9" fill="#fb8b3c"/>
<circle cx="795.3" cy="179.5" r="2.5" fill="#fb8b3c"/>
<circle cx="797.7" cy="179.7" r="2.2" fill="#fb8b3c"/>
<circle cx="800.1" cy="179.3" r="2.2" fill="#fb8b3c"/>
<circle cx="803.0" cy="179.2" r="2.1" fill="#fb8b3c"/>
<circle cx="684.7" cy="129.2" r="1.7" fill="#7653b5" stroke="#a08a9e" stroke-width="0.3"/>
<circle cx="690.5" cy="129.2" r="2.7" fill="#7653b5" stroke="#a08a9e" stroke-width="0.3"/>
<circle cx="710.5" cy="129.2" r="2.7" fill="#7653b5" stroke="#a08a9e" stroke-width="0.3"/>
<circle cx="713.3" cy="129.2" r="2.2" fill="#7653b5" stroke="#a08a9e" stroke-width="0.3"/>
<circle cx="722.0" cy="129.2" r="2.2" fill="#7653b5" stroke="#a08a9e" stroke-width="0.3"/>
<circle cx="735.8" cy="129.2" r="3.0" fill="#7653b5" stroke="#a08a9e" stroke-width="0.3"/>
<circle cx="753.8" cy="129.2" r="2.3" fill="#7653b5" stroke="#a08a9e" stroke-width="0.3"/>
<circle cx="765.3" cy="129.2" r="1.3" fill="#7653b5" stroke="#a08a9e" stroke-width="0.3"/>
<circle cx="773.3" cy="129.2" r="3.0" fill="#7653b5" stroke="#a08a9e" stroke-width="0.3"/>
<circle cx="670.8" cy="154.7" r="2.0" fill="#7653b5" stroke="#a08a9e" stroke-width="0.3"/>
<circle cx="674.2" cy="154.7" r="2.5" fill="#7653b5" stroke="#a08a9e" stroke-width="0.3"/>
<circle cx="684.7" cy="154.7" r="1.5" fill="#7653b5" stroke="#a08a9e" stroke-width="0.3"/>
<circle cx="689.7" cy="154.7" r="2.3" fill="#7653b5" stroke="#a08a9e" stroke-width="0.3"/>
<circle cx="695.0" cy="154.7" r="2.5" fill="#7653b5" stroke="#a08a9e" stroke-width="0.3"/>
<circle cx="702.5" cy="154.7" r="0.6" fill="#7653b5" stroke="#a08a9e" stroke-width="0.3"/>
<circle cx="711.3" cy="154.7" r="3.0" fill="#7653b5" stroke="#a08a9e" stroke-width="0.3"/>
<circle cx="716.3" cy="154.7" r="2.3" fill="#7653b5" stroke="#a08a9e" stroke-width="0.3"/>
<circle cx="725.0" cy="154.7" r="1.8" fill="#7653b5" stroke="#a08a9e" stroke-width="0.3"/>
<circle cx="734.5" cy="154.7" r="1.7" fill="#7653b5" stroke="#a08a9e" stroke-width="0.3"/>
<circle cx="740.3" cy="154.7" r="2.5" fill="#7653b5" stroke="#a08a9e" stroke-width="0.3"/>
<circle cx="753.7" cy="154.7" r="2.5" fill="#7653b5" stroke="#a08a9e" stroke-width="0.3"/>
<circle cx="759.2" cy="154.7" r="2.7" fill="#7653b5" stroke="#a08a9e" stroke-width="0.3"/>
<circle cx="767.8" cy="154.7" r="3.0" fill="#7653b5" stroke="#a08a9e" stroke-width="0.3"/>
<circle cx="773.0" cy="154.7" r="3.0" fill="#7653b5" stroke="#a08a9e" stroke-width="0.3"/>
<circle cx="782.0" cy="154.7" r="1.5" fill="#7653b5" stroke="#a08a9e" stroke-width="0.3"/>
<circle cx="790.5" cy="154.7" r="3.2" fill="#7653b5" stroke="#a08a9e" stroke-width="0.3"/>
<circle cx="730.3" cy="104.2" r="2.2" fill="#7653b5" stroke="#a08a9e" stroke-width="0.3"/>
<circle cx="744.2" cy="104.2" r="1.3" fill="#7653b5" stroke="#a08a9e" stroke-width="0.3"/>
<circle cx="709.5" cy="104.2" r="0.9" fill="#c9a27a"/>
<circle cx="727.8" cy="78.8" r="1.8" fill="#c00000"/>
</g>
</svg>
<div class="tag" style="left:424px;top:164.3px;width:66.3px;height:12.6px;padding-left:0.3px;">组织层级分析</div>
<div class="tag" style="left:563.5px;top:167.1px;width:43.6px;height:12.4px;padding-left:0.6px;">人才盘点</div>
<div class="tag" style="left:698px;top:167px;width:66px;height:11.8px;padding-left:0.4px;">晋升通道明晰</div>
<svg class="abs" style="left:0;top:0" width="1080" height="492" viewBox="0 0 1080 492"><rect x="386.6" y="42.5" width="454.1" height="140.0" rx="2.6" fill="none" stroke="#c9181f" stroke-width="1.15"/></svg>
<div class="title" style="left:837.8px;top:9.6px;width:201px;">平台服务理念</div>
<div class="rpanel"></div>
<svg class="abs" style="left:0;top:0" width="1080" height="492" viewBox="0 0 1080 492">
<defs><filter id="bl4" x="-10%" y="-10%" width="120%" height="120%"><feGaussianBlur stdDeviation="0.3"/></filter></defs>
<polygon points="858,103.6 864.4,96 864.4,103.6" fill="#c00000"/>
<polygon points="1005.5,103.6 1000,96 1000,103.6" fill="#c00000"/>
<polygon points="861,240 866.2,232.4 866.2,240" fill="#c00000"/>
<polygon points="1007.4,240 1001.5,232.4 1001.5,240" fill="#c00000"/>
<polygon points="859.3,370.5 864.6,363 864.6,370.5" fill="#c00000"/>
<polygon points="1006,370.5 1000,363 1000,370.5" fill="#c00000"/>
<g filter="url(#bl4)">
<!-- document icon -->
<rect x="927" y="70.3" width="15.6" height="21.4" rx="2" fill="#e4554b" stroke="#d3221c" stroke-width="1.2"/>
<rect x="924.3" y="67.9" width="15.6" height="20.8" rx="1.6" fill="#fb9b0c" stroke="#d7261e" stroke-width="1.1"/>
<rect x="930.4" y="70.6" width="7.5" height="2.4" rx="1.2" fill="#f9d6d2" stroke="#d7261e" stroke-width="0.9"/>
<rect x="926.3" y="74.8" width="11.6" height="2.4" rx="1.2" fill="#f9d6d2" stroke="#d7261e" stroke-width="0.9"/>
<rect x="926.3" y="79" width="11.6" height="2.4" rx="1.2" fill="#f9d6d2" stroke="#d7261e" stroke-width="0.9"/>
<rect x="926.3" y="83.2" width="11.6" height="2.4" rx="1.2" fill="#f9d6d2" stroke="#d7261e" stroke-width="0.9"/>
<!-- globe icon -->
<g fill="none" stroke="#b47bd8" stroke-width="1.3">
<ellipse cx="931.8" cy="212.8" rx="10.6" ry="11.6"/>
<path d="M921.6,212.6 H942"/>
<path d="M923.8,207.8 Q931.8,206.6 940.2,207.2"/>
<path d="M931.8,201.2 Q926.6,205.6 927.4,212.4"/>
<path d="M931.8,201.2 Q937,205.6 936.4,212.4"/>
<path d="M926.6,219.6 V223 M931.8,221 V224.2 M937,219.6 V223 M929.2,221.4 V224 M934.4,221.4 V224"/>
</g>
<ellipse cx="927" cy="217" rx="1.7" ry="2.1" fill="#b47bd8"/>
<ellipse cx="931.9" cy="216.8" rx="1.9" ry="2.3" fill="#b47bd8"/>
<ellipse cx="937" cy="217.2" rx="1.6" ry="2" fill="#b47bd8"/>
<circle cx="922" cy="212.6" r="1.3" fill="#fff" stroke="#b47bd8" stroke-width="0.9"/>
<circle cx="940.9" cy="206" r="1.5" fill="#fff" stroke="#b47bd8" stroke-width="0.9"/>
<circle cx="936.4" cy="212.6" r="1.2" fill="#fff" stroke="#b47bd8" stroke-width="0.9"/>
<circle cx="928" cy="207.8" r="1" fill="#fff" stroke="#b47bd8" stroke-width="0.8"/>
<!-- thermometer icon -->
<path d="M928.2,351.4 V338.8 a2.75,2.75 0 0 1 5.5,0 V351.4 a5.7,5.9 0 1 1 -5.5,0 z" fill="#fff" stroke="#b47bd8" stroke-width="1.6"/>
<path d="M928.1,355.6 h5.7 a2.85,3.4 0 0 1 -5.7,0 z" fill="#ab68d2"/>
<path d="M928.6,341.4 h2 M928.6,343.6 h2 M928.6,345.8 h2 M928.6,348 h2 M928.6,350.2 h2 M928.6,352.4 h2.6" stroke="#b47bd8" stroke-width="0.7" fill="none"/>
</g>
</svg>
<div class="ban" style="left:858px;top:103px;width:147.5px;height:37px;border:1px solid #c00000;"><span>简单</span></div>
<div class="ban" style="left:861px;top:239.6px;width:146.5px;height:36.2px;"><span>智能</span></div>
<div class="ban" style="left:859.3px;top:370.8px;width:146.7px;height:36px;"><span>温度</span></div>
<div class="sub" style="left:864px;top:150.6px;width:136px;">体验</div>
<div class="sub" style="left:864px;top:287.2px;width:136px;">用户思维</div>
<div class="sub" style="left:864px;top:417px;width:136px;">贴心</div>

</div>
</body>
</html>
